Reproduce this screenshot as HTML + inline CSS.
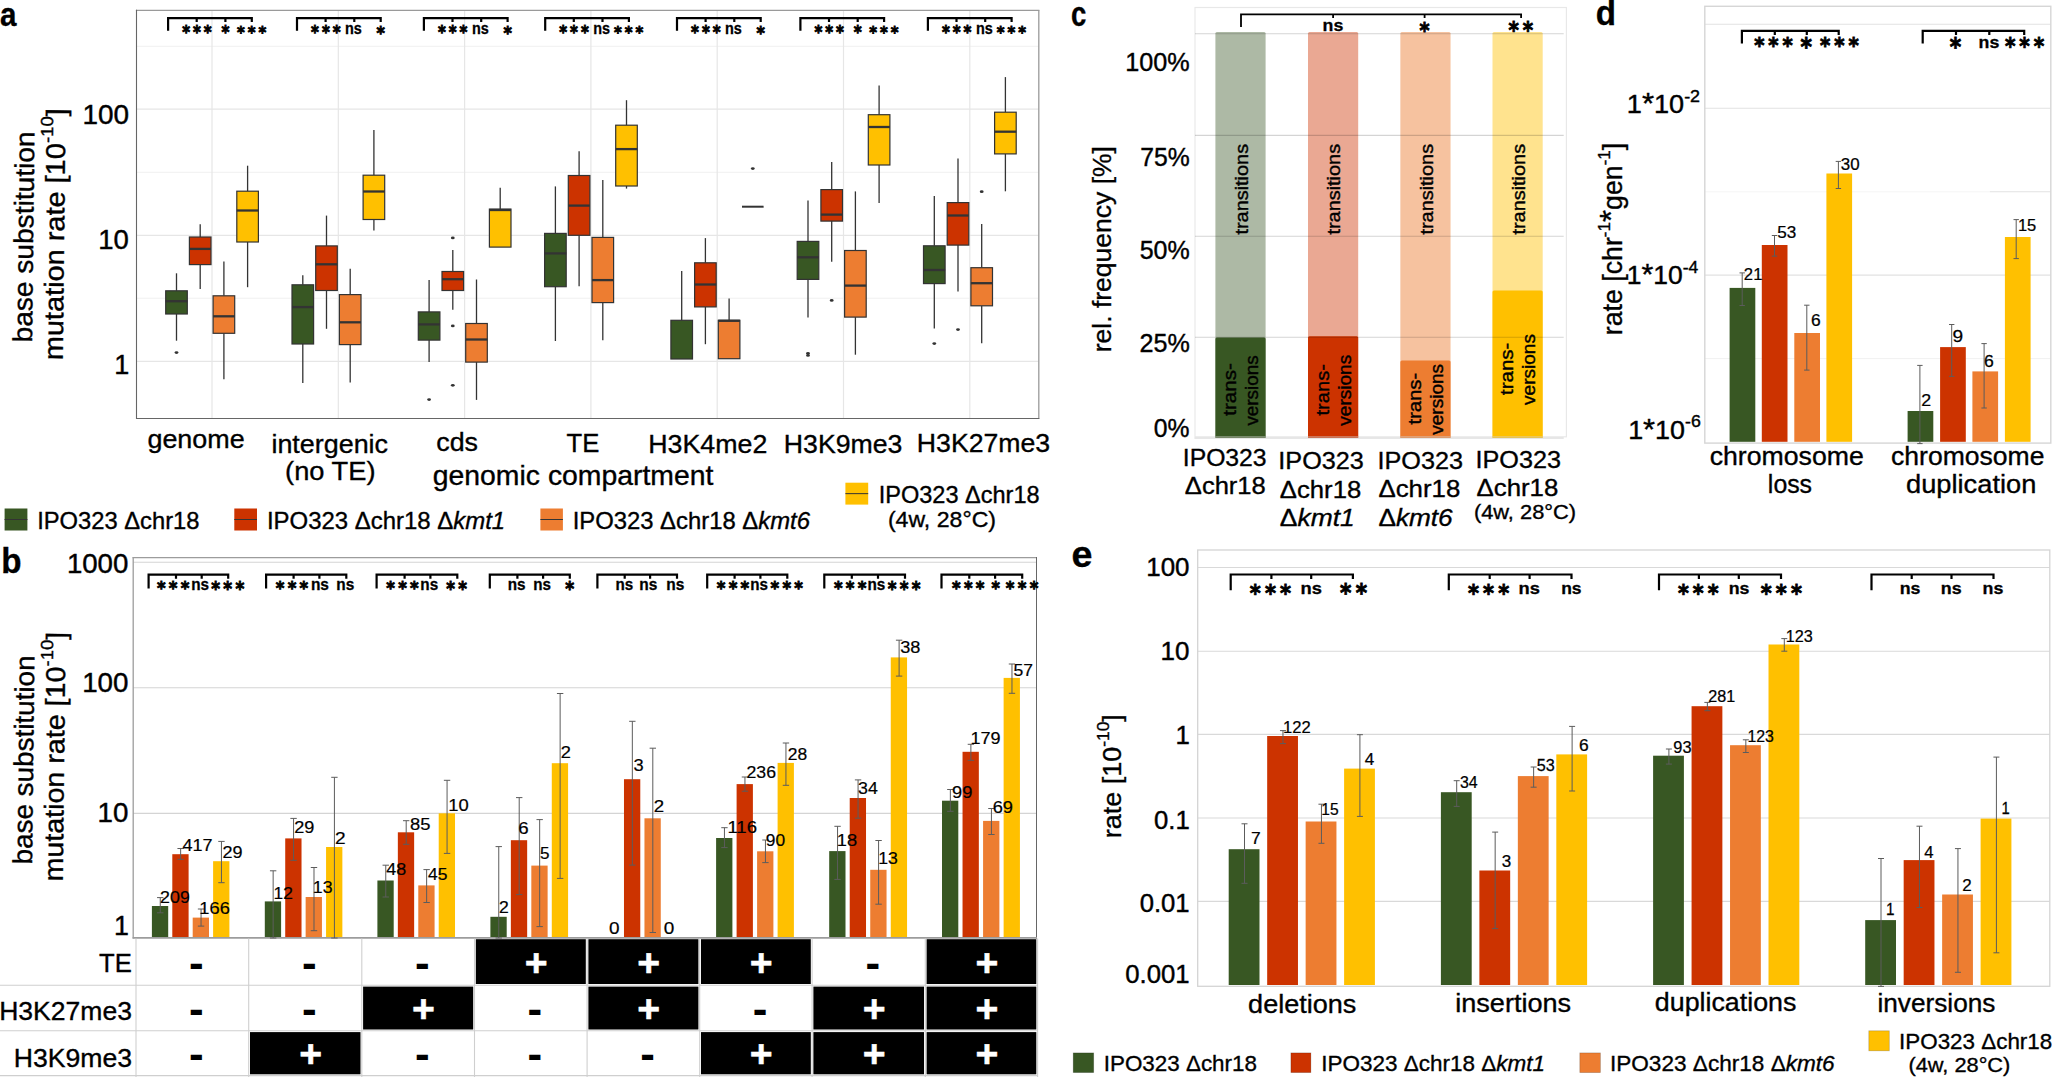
<!DOCTYPE html>
<html><head><meta charset="utf-8"><title>Figure</title>
<style>html,body{margin:0;padding:0;background:#fff}svg{display:block}text{font-family:'Liberation Sans',sans-serif;white-space:pre}</style>
</head><body>
<svg width="2052" height="1077" viewBox="0 0 2052 1077">
<rect width="2052" height="1077" fill="#fff"/>
<rect x="136.5" y="10" width="902" height="408" fill="#fff"/>
<line x1="136.5" y1="46.3" x2="1038.5" y2="46.3" stroke="#f0f0f0" stroke-width="1"/>
<line x1="136.5" y1="172.3" x2="1038.5" y2="172.3" stroke="#f0f0f0" stroke-width="1"/>
<line x1="136.5" y1="298.2" x2="1038.5" y2="298.2" stroke="#f0f0f0" stroke-width="1"/>
<line x1="136.5" y1="109.2" x2="1038.5" y2="109.2" stroke="#e6e6e6" stroke-width="1.2"/>
<line x1="136.5" y1="235.4" x2="1038.5" y2="235.4" stroke="#e6e6e6" stroke-width="1.2"/>
<line x1="136.5" y1="361.3" x2="1038.5" y2="361.3" stroke="#e6e6e6" stroke-width="1.2"/>
<line x1="212" y1="10" x2="212" y2="418" stroke="#e6e6e6" stroke-width="1.2"/>
<line x1="338.3" y1="10" x2="338.3" y2="418" stroke="#e6e6e6" stroke-width="1.2"/>
<line x1="464.6" y1="10" x2="464.6" y2="418" stroke="#e6e6e6" stroke-width="1.2"/>
<line x1="590.9" y1="10" x2="590.9" y2="418" stroke="#e6e6e6" stroke-width="1.2"/>
<line x1="717.2" y1="10" x2="717.2" y2="418" stroke="#e6e6e6" stroke-width="1.2"/>
<line x1="843.5" y1="10" x2="843.5" y2="418" stroke="#e6e6e6" stroke-width="1.2"/>
<line x1="969.8" y1="10" x2="969.8" y2="418" stroke="#e6e6e6" stroke-width="1.2"/>
<line x1="135.9" y1="10.3" x2="1039.4" y2="10.3" stroke="#9a9a9a" stroke-width="1.3"/>
<line x1="1038.8" y1="10.3" x2="1038.8" y2="418.5" stroke="#9a9a9a" stroke-width="1.3"/>
<line x1="136.5" y1="9.7" x2="136.5" y2="419" stroke="#666" stroke-width="1.1"/>
<line x1="136" y1="418.5" x2="1039.4" y2="418.5" stroke="#666" stroke-width="1.1"/>
<line x1="176.5" y1="273.3" x2="176.5" y2="290.8" stroke="#333" stroke-width="1.3"/>
<line x1="176.5" y1="314" x2="176.5" y2="340.7" stroke="#333" stroke-width="1.3"/>
<rect x="165.7" y="290.8" width="21.6" height="23.2" fill="#385723" stroke="#333" stroke-width="1.2"/>
<line x1="165.7" y1="301.2" x2="187.3" y2="301.2" stroke="#333" stroke-width="2.3"/>
<ellipse cx="176.5" cy="352.6" rx="1.9" ry="1.4" fill="#333"/>
<line x1="200.2" y1="224.2" x2="200.2" y2="237" stroke="#333" stroke-width="1.3"/>
<line x1="200.2" y1="264.6" x2="200.2" y2="289" stroke="#333" stroke-width="1.3"/>
<rect x="189.4" y="237" width="21.6" height="27.6" fill="#CC3300" stroke="#333" stroke-width="1.2"/>
<line x1="189.4" y1="248.9" x2="211" y2="248.9" stroke="#333" stroke-width="2.3"/>
<line x1="223.9" y1="261.4" x2="223.9" y2="295.8" stroke="#333" stroke-width="1.3"/>
<line x1="223.9" y1="333.3" x2="223.9" y2="379.3" stroke="#333" stroke-width="1.3"/>
<rect x="213.1" y="295.8" width="21.6" height="37.5" fill="#ED7D31" stroke="#333" stroke-width="1.2"/>
<line x1="213.1" y1="316.3" x2="234.7" y2="316.3" stroke="#333" stroke-width="2.3"/>
<line x1="247.6" y1="165.7" x2="247.6" y2="191.2" stroke="#333" stroke-width="1.3"/>
<line x1="247.6" y1="242" x2="247.6" y2="287.2" stroke="#333" stroke-width="1.3"/>
<rect x="236.8" y="191.2" width="21.6" height="50.8" fill="#FFC000" stroke="#333" stroke-width="1.2"/>
<line x1="236.8" y1="210.5" x2="258.4" y2="210.5" stroke="#333" stroke-width="2.3"/>
<line x1="302.8" y1="275.3" x2="302.8" y2="284.8" stroke="#333" stroke-width="1.3"/>
<line x1="302.8" y1="344" x2="302.8" y2="382.9" stroke="#333" stroke-width="1.3"/>
<rect x="292" y="284.8" width="21.6" height="59.2" fill="#385723" stroke="#333" stroke-width="1.2"/>
<line x1="292" y1="307.1" x2="313.6" y2="307.1" stroke="#333" stroke-width="2.3"/>
<line x1="326.5" y1="215.6" x2="326.5" y2="245.9" stroke="#333" stroke-width="1.3"/>
<line x1="326.5" y1="290.5" x2="326.5" y2="328.8" stroke="#333" stroke-width="1.3"/>
<rect x="315.7" y="245.9" width="21.6" height="44.6" fill="#CC3300" stroke="#333" stroke-width="1.2"/>
<line x1="315.7" y1="264.3" x2="337.3" y2="264.3" stroke="#333" stroke-width="2.3"/>
<line x1="350.2" y1="268.8" x2="350.2" y2="294.6" stroke="#333" stroke-width="1.3"/>
<line x1="350.2" y1="344.6" x2="350.2" y2="382.6" stroke="#333" stroke-width="1.3"/>
<rect x="339.4" y="294.6" width="21.6" height="50" fill="#ED7D31" stroke="#333" stroke-width="1.2"/>
<line x1="339.4" y1="322.3" x2="361" y2="322.3" stroke="#333" stroke-width="2.3"/>
<line x1="373.9" y1="130" x2="373.9" y2="175.2" stroke="#333" stroke-width="1.3"/>
<line x1="373.9" y1="219.5" x2="373.9" y2="230.5" stroke="#333" stroke-width="1.3"/>
<rect x="363.1" y="175.2" width="21.6" height="44.3" fill="#FFC000" stroke="#333" stroke-width="1.2"/>
<line x1="363.1" y1="191.5" x2="384.7" y2="191.5" stroke="#333" stroke-width="2.3"/>
<line x1="429.1" y1="280.1" x2="429.1" y2="311.9" stroke="#333" stroke-width="1.3"/>
<line x1="429.1" y1="340.1" x2="429.1" y2="362.1" stroke="#333" stroke-width="1.3"/>
<rect x="418.3" y="311.9" width="21.6" height="28.2" fill="#385723" stroke="#333" stroke-width="1.2"/>
<line x1="418.3" y1="324.4" x2="439.9" y2="324.4" stroke="#333" stroke-width="2.3"/>
<ellipse cx="429.1" cy="399.6" rx="1.9" ry="1.4" fill="#333"/>
<line x1="452.8" y1="250.1" x2="452.8" y2="271.5" stroke="#333" stroke-width="1.3"/>
<line x1="452.8" y1="290.5" x2="452.8" y2="309.8" stroke="#333" stroke-width="1.3"/>
<rect x="442" y="271.5" width="21.6" height="19" fill="#CC3300" stroke="#333" stroke-width="1.2"/>
<line x1="442" y1="279.2" x2="463.6" y2="279.2" stroke="#333" stroke-width="2.3"/>
<ellipse cx="452.8" cy="237.9" rx="1.9" ry="1.4" fill="#333"/>
<ellipse cx="452.8" cy="325.9" rx="1.9" ry="1.4" fill="#333"/>
<ellipse cx="452.8" cy="385.3" rx="1.9" ry="1.4" fill="#333"/>
<line x1="476.5" y1="279.5" x2="476.5" y2="323.5" stroke="#333" stroke-width="1.3"/>
<line x1="476.5" y1="362.1" x2="476.5" y2="399.9" stroke="#333" stroke-width="1.3"/>
<rect x="465.7" y="323.5" width="21.6" height="38.6" fill="#ED7D31" stroke="#333" stroke-width="1.2"/>
<line x1="465.7" y1="339.5" x2="487.3" y2="339.5" stroke="#333" stroke-width="2.3"/>
<line x1="500.2" y1="187.7" x2="500.2" y2="209.1" stroke="#333" stroke-width="1.3"/>
<rect x="489.4" y="209.1" width="21.6" height="38" fill="#FFC000" stroke="#333" stroke-width="1.2"/>
<line x1="489.4" y1="210" x2="511" y2="210" stroke="#333" stroke-width="2.3"/>
<line x1="555.4" y1="186.4" x2="555.4" y2="233.4" stroke="#333" stroke-width="1.3"/>
<line x1="555.4" y1="286.7" x2="555.4" y2="341" stroke="#333" stroke-width="1.3"/>
<rect x="544.6" y="233.4" width="21.6" height="53.3" fill="#385723" stroke="#333" stroke-width="1.2"/>
<line x1="544.6" y1="253.4" x2="566.2" y2="253.4" stroke="#333" stroke-width="2.3"/>
<line x1="579.1" y1="151.3" x2="579.1" y2="175.5" stroke="#333" stroke-width="1.3"/>
<line x1="579.1" y1="235.3" x2="579.1" y2="286.3" stroke="#333" stroke-width="1.3"/>
<rect x="568.3" y="175.5" width="21.6" height="59.8" fill="#CC3300" stroke="#333" stroke-width="1.2"/>
<line x1="568.3" y1="205.6" x2="589.9" y2="205.6" stroke="#333" stroke-width="2.3"/>
<line x1="602.8" y1="179.9" x2="602.8" y2="237.4" stroke="#333" stroke-width="1.3"/>
<line x1="602.8" y1="302.6" x2="602.8" y2="340.2" stroke="#333" stroke-width="1.3"/>
<rect x="592" y="237.4" width="21.6" height="65.2" fill="#ED7D31" stroke="#333" stroke-width="1.2"/>
<line x1="592" y1="280.1" x2="613.6" y2="280.1" stroke="#333" stroke-width="2.3"/>
<line x1="626.5" y1="100.2" x2="626.5" y2="125.2" stroke="#333" stroke-width="1.3"/>
<line x1="626.5" y1="186" x2="626.5" y2="188.6" stroke="#333" stroke-width="1.3"/>
<rect x="615.7" y="125.2" width="21.6" height="60.8" fill="#FFC000" stroke="#333" stroke-width="1.2"/>
<line x1="615.7" y1="149.1" x2="637.3" y2="149.1" stroke="#333" stroke-width="2.3"/>
<line x1="681.7" y1="271.1" x2="681.7" y2="320.3" stroke="#333" stroke-width="1.3"/>
<rect x="670.9" y="320.3" width="21.6" height="38.7" fill="#385723" stroke="#333" stroke-width="1.2"/>
<line x1="705.4" y1="238.1" x2="705.4" y2="262.8" stroke="#333" stroke-width="1.3"/>
<line x1="705.4" y1="306.9" x2="705.4" y2="344.2" stroke="#333" stroke-width="1.3"/>
<rect x="694.6" y="262.8" width="21.6" height="44.1" fill="#CC3300" stroke="#333" stroke-width="1.2"/>
<line x1="694.6" y1="284.5" x2="716.2" y2="284.5" stroke="#333" stroke-width="2.3"/>
<line x1="729.1" y1="298.6" x2="729.1" y2="320.3" stroke="#333" stroke-width="1.3"/>
<rect x="718.3" y="320.3" width="21.6" height="38.4" fill="#ED7D31" stroke="#333" stroke-width="1.2"/>
<line x1="718.3" y1="320.8" x2="739.9" y2="320.8" stroke="#333" stroke-width="2.3"/>
<line x1="742" y1="206.7" x2="763.6" y2="206.7" stroke="#333" stroke-width="2"/>
<ellipse cx="752.8" cy="168.6" rx="1.9" ry="1.4" fill="#333"/>
<line x1="808" y1="200.5" x2="808" y2="241.4" stroke="#333" stroke-width="1.3"/>
<line x1="808" y1="279.4" x2="808" y2="317.4" stroke="#333" stroke-width="1.3"/>
<rect x="797.2" y="241.4" width="21.6" height="38" fill="#385723" stroke="#333" stroke-width="1.2"/>
<line x1="797.2" y1="257.3" x2="818.8" y2="257.3" stroke="#333" stroke-width="2.3"/>
<ellipse cx="808" cy="353.3" rx="1.9" ry="1.4" fill="#333"/>
<ellipse cx="808" cy="355.4" rx="1.9" ry="1.4" fill="#333"/>
<line x1="831.7" y1="162.1" x2="831.7" y2="189.6" stroke="#333" stroke-width="1.3"/>
<line x1="831.7" y1="221.1" x2="831.7" y2="261.7" stroke="#333" stroke-width="1.3"/>
<rect x="820.9" y="189.6" width="21.6" height="31.5" fill="#CC3300" stroke="#333" stroke-width="1.2"/>
<line x1="820.9" y1="214.6" x2="842.5" y2="214.6" stroke="#333" stroke-width="2.3"/>
<ellipse cx="831.7" cy="300.4" rx="1.9" ry="1.4" fill="#333"/>
<line x1="855.4" y1="191.4" x2="855.4" y2="250.5" stroke="#333" stroke-width="1.3"/>
<line x1="855.4" y1="317.1" x2="855.4" y2="354.7" stroke="#333" stroke-width="1.3"/>
<rect x="844.6" y="250.5" width="21.6" height="66.6" fill="#ED7D31" stroke="#333" stroke-width="1.2"/>
<line x1="844.6" y1="285.6" x2="866.2" y2="285.6" stroke="#333" stroke-width="2.3"/>
<line x1="879.1" y1="85.4" x2="879.1" y2="114.7" stroke="#333" stroke-width="1.3"/>
<line x1="879.1" y1="165" x2="879.1" y2="203" stroke="#333" stroke-width="1.3"/>
<rect x="868.3" y="114.7" width="21.6" height="50.3" fill="#FFC000" stroke="#333" stroke-width="1.2"/>
<line x1="868.3" y1="127" x2="889.9" y2="127" stroke="#333" stroke-width="2.3"/>
<line x1="934.3" y1="196" x2="934.3" y2="245.8" stroke="#333" stroke-width="1.3"/>
<line x1="934.3" y1="283.6" x2="934.3" y2="328.4" stroke="#333" stroke-width="1.3"/>
<rect x="923.5" y="245.8" width="21.6" height="37.8" fill="#385723" stroke="#333" stroke-width="1.2"/>
<line x1="923.5" y1="270" x2="945.1" y2="270" stroke="#333" stroke-width="2.3"/>
<ellipse cx="934.3" cy="343.6" rx="1.9" ry="1.4" fill="#333"/>
<line x1="958" y1="158.6" x2="958" y2="202.6" stroke="#333" stroke-width="1.3"/>
<line x1="958" y1="245.1" x2="958" y2="291.4" stroke="#333" stroke-width="1.3"/>
<rect x="947.2" y="202.6" width="21.6" height="42.5" fill="#CC3300" stroke="#333" stroke-width="1.2"/>
<line x1="947.2" y1="215.5" x2="968.8" y2="215.5" stroke="#333" stroke-width="2.3"/>
<ellipse cx="958" cy="329.6" rx="1.9" ry="1.4" fill="#333"/>
<line x1="981.7" y1="224" x2="981.7" y2="267.7" stroke="#333" stroke-width="1.3"/>
<line x1="981.7" y1="305.8" x2="981.7" y2="343.2" stroke="#333" stroke-width="1.3"/>
<rect x="970.9" y="267.7" width="21.6" height="38.1" fill="#ED7D31" stroke="#333" stroke-width="1.2"/>
<line x1="970.9" y1="283.2" x2="992.5" y2="283.2" stroke="#333" stroke-width="2.3"/>
<ellipse cx="981.7" cy="191.7" rx="1.9" ry="1.4" fill="#333"/>
<line x1="1005.4" y1="77.1" x2="1005.4" y2="112.2" stroke="#333" stroke-width="1.3"/>
<line x1="1005.4" y1="153.9" x2="1005.4" y2="191.3" stroke="#333" stroke-width="1.3"/>
<rect x="994.6" y="112.2" width="21.6" height="41.7" fill="#FFC000" stroke="#333" stroke-width="1.2"/>
<line x1="994.6" y1="131.7" x2="1016.2" y2="131.7" stroke="#333" stroke-width="2.3"/>
<path d="M168.1 30.8 V18.2 H251.8 V22 M196.7 18.2 V22 M225.4 18.2 V22" stroke="#000" stroke-width="2.2" fill="none"/>
<text transform="translate(182.2,38.03) scale(1.0000,1.12)" fill="#000" stroke="#000" stroke-width="0.8"><tspan x="0" y="0" font-size="14.98" font-weight="bold" font-family="'DejaVu Sans',sans-serif">*</tspan><tspan x="10.8" y="0" font-size="14.98" font-weight="bold" font-family="'DejaVu Sans',sans-serif">*</tspan><tspan x="21.61" y="0" font-size="14.98" font-weight="bold" font-family="'DejaVu Sans',sans-serif">*</tspan></text>
<text transform="translate(221.4,38.16) scale(1.0000,1.12)" fill="#000" stroke="#000" stroke-width="0.8"><tspan x="0" y="0" font-size="15.21" font-weight="bold" font-family="'DejaVu Sans',sans-serif">*</tspan></text>
<text transform="translate(237,37.97) scale(1.0000,1.12)" fill="#000" stroke="#000" stroke-width="0.8"><tspan x="0" y="0" font-size="14.88" font-weight="bold" font-family="'DejaVu Sans',sans-serif">*</tspan><tspan x="10.73" y="0" font-size="14.88" font-weight="bold" font-family="'DejaVu Sans',sans-serif">*</tspan><tspan x="21.46" y="0" font-size="14.88" font-weight="bold" font-family="'DejaVu Sans',sans-serif">*</tspan></text>
<path d="M297 30.8 V18.2 H380.7 V22 M325.6 18.2 V22 M354.3 18.2 V22" stroke="#000" stroke-width="2.2" fill="none"/>
<text transform="translate(311.1,38.03) scale(1.0000,1.12)" fill="#000" stroke="#000" stroke-width="0.8"><tspan x="0" y="0" font-size="14.98" font-weight="bold" font-family="'DejaVu Sans',sans-serif">*</tspan><tspan x="10.8" y="0" font-size="14.98" font-weight="bold" font-family="'DejaVu Sans',sans-serif">*</tspan><tspan x="21.61" y="0" font-size="14.98" font-weight="bold" font-family="'DejaVu Sans',sans-serif">*</tspan></text>
<text transform="translate(344.99,33.6) scale(0.8392,1)" fill="#000" stroke="#000" stroke-width="0.3"><tspan x="0" y="0" font-size="17.2" font-weight="bold">ns</tspan></text>
<text transform="translate(376.58,38.64) scale(1.0000,1.12)" fill="#000" stroke="#000" stroke-width="0.8"><tspan x="0" y="0" font-size="16.04" font-weight="bold" font-family="'DejaVu Sans',sans-serif">*</tspan></text>
<path d="M423.9 30.8 V18.2 H507.6 V22 M452.5 18.2 V22 M481.2 18.2 V22" stroke="#000" stroke-width="2.2" fill="none"/>
<text transform="translate(438,38.03) scale(1.0000,1.12)" fill="#000" stroke="#000" stroke-width="0.8"><tspan x="0" y="0" font-size="14.98" font-weight="bold" font-family="'DejaVu Sans',sans-serif">*</tspan><tspan x="10.8" y="0" font-size="14.98" font-weight="bold" font-family="'DejaVu Sans',sans-serif">*</tspan><tspan x="21.61" y="0" font-size="14.98" font-weight="bold" font-family="'DejaVu Sans',sans-serif">*</tspan></text>
<text transform="translate(471.89,33.6) scale(0.8392,1)" fill="#000" stroke="#000" stroke-width="0.3"><tspan x="0" y="0" font-size="17.2" font-weight="bold">ns</tspan></text>
<text transform="translate(503.48,38.64) scale(1.0000,1.12)" fill="#000" stroke="#000" stroke-width="0.8"><tspan x="0" y="0" font-size="16.04" font-weight="bold" font-family="'DejaVu Sans',sans-serif">*</tspan></text>
<path d="M545.2 30.8 V18.2 H628.9 V22 M573.8 18.2 V22 M602.5 18.2 V22" stroke="#000" stroke-width="2.2" fill="none"/>
<text transform="translate(559.3,38.03) scale(1.0000,1.12)" fill="#000" stroke="#000" stroke-width="0.8"><tspan x="0" y="0" font-size="14.98" font-weight="bold" font-family="'DejaVu Sans',sans-serif">*</tspan><tspan x="10.8" y="0" font-size="14.98" font-weight="bold" font-family="'DejaVu Sans',sans-serif">*</tspan><tspan x="21.61" y="0" font-size="14.98" font-weight="bold" font-family="'DejaVu Sans',sans-serif">*</tspan></text>
<text transform="translate(593.19,33.6) scale(0.8392,1)" fill="#000" stroke="#000" stroke-width="0.3"><tspan x="0" y="0" font-size="17.2" font-weight="bold">ns</tspan></text>
<text transform="translate(614.1,37.97) scale(1.0000,1.12)" fill="#000" stroke="#000" stroke-width="0.8"><tspan x="0" y="0" font-size="14.88" font-weight="bold" font-family="'DejaVu Sans',sans-serif">*</tspan><tspan x="10.73" y="0" font-size="14.88" font-weight="bold" font-family="'DejaVu Sans',sans-serif">*</tspan><tspan x="21.46" y="0" font-size="14.88" font-weight="bold" font-family="'DejaVu Sans',sans-serif">*</tspan></text>
<path d="M677 30.8 V18.2 H760.7 V22 M705.6 18.2 V22 M734.3 18.2 V22" stroke="#000" stroke-width="2.2" fill="none"/>
<text transform="translate(691.1,38.03) scale(1.0000,1.12)" fill="#000" stroke="#000" stroke-width="0.8"><tspan x="0" y="0" font-size="14.98" font-weight="bold" font-family="'DejaVu Sans',sans-serif">*</tspan><tspan x="10.8" y="0" font-size="14.98" font-weight="bold" font-family="'DejaVu Sans',sans-serif">*</tspan><tspan x="21.61" y="0" font-size="14.98" font-weight="bold" font-family="'DejaVu Sans',sans-serif">*</tspan></text>
<text transform="translate(724.99,33.6) scale(0.8392,1)" fill="#000" stroke="#000" stroke-width="0.3"><tspan x="0" y="0" font-size="17.2" font-weight="bold">ns</tspan></text>
<text transform="translate(756.58,38.64) scale(1.0000,1.12)" fill="#000" stroke="#000" stroke-width="0.8"><tspan x="0" y="0" font-size="16.04" font-weight="bold" font-family="'DejaVu Sans',sans-serif">*</tspan></text>
<path d="M800.4 30.8 V18.2 H884.1 V22 M829 18.2 V22 M857.7 18.2 V22" stroke="#000" stroke-width="2.2" fill="none"/>
<text transform="translate(814.5,38.03) scale(1.0000,1.12)" fill="#000" stroke="#000" stroke-width="0.8"><tspan x="0" y="0" font-size="14.98" font-weight="bold" font-family="'DejaVu Sans',sans-serif">*</tspan><tspan x="10.8" y="0" font-size="14.98" font-weight="bold" font-family="'DejaVu Sans',sans-serif">*</tspan><tspan x="21.61" y="0" font-size="14.98" font-weight="bold" font-family="'DejaVu Sans',sans-serif">*</tspan></text>
<text transform="translate(853.7,38.16) scale(1.0000,1.12)" fill="#000" stroke="#000" stroke-width="0.8"><tspan x="0" y="0" font-size="15.21" font-weight="bold" font-family="'DejaVu Sans',sans-serif">*</tspan></text>
<text transform="translate(869.3,37.97) scale(1.0000,1.12)" fill="#000" stroke="#000" stroke-width="0.8"><tspan x="0" y="0" font-size="14.88" font-weight="bold" font-family="'DejaVu Sans',sans-serif">*</tspan><tspan x="10.73" y="0" font-size="14.88" font-weight="bold" font-family="'DejaVu Sans',sans-serif">*</tspan><tspan x="21.46" y="0" font-size="14.88" font-weight="bold" font-family="'DejaVu Sans',sans-serif">*</tspan></text>
<path d="M927.9 30.8 V18.2 H1011.6 V22 M956.5 18.2 V22 M985.2 18.2 V22" stroke="#000" stroke-width="2.2" fill="none"/>
<text transform="translate(942,38.03) scale(1.0000,1.12)" fill="#000" stroke="#000" stroke-width="0.8"><tspan x="0" y="0" font-size="14.98" font-weight="bold" font-family="'DejaVu Sans',sans-serif">*</tspan><tspan x="10.8" y="0" font-size="14.98" font-weight="bold" font-family="'DejaVu Sans',sans-serif">*</tspan><tspan x="21.61" y="0" font-size="14.98" font-weight="bold" font-family="'DejaVu Sans',sans-serif">*</tspan></text>
<text transform="translate(975.89,33.6) scale(0.8392,1)" fill="#000" stroke="#000" stroke-width="0.3"><tspan x="0" y="0" font-size="17.2" font-weight="bold">ns</tspan></text>
<text transform="translate(996.8,37.97) scale(1.0000,1.12)" fill="#000" stroke="#000" stroke-width="0.8"><tspan x="0" y="0" font-size="14.88" font-weight="bold" font-family="'DejaVu Sans',sans-serif">*</tspan><tspan x="10.73" y="0" font-size="14.88" font-weight="bold" font-family="'DejaVu Sans',sans-serif">*</tspan><tspan x="21.46" y="0" font-size="14.88" font-weight="bold" font-family="'DejaVu Sans',sans-serif">*</tspan></text>
<text transform="translate(0.01,25.8) scale(0.8843,1)" fill="#000" stroke="#000" stroke-width="0.35"><tspan x="0" y="0" font-size="33.5" font-weight="bold">a</tspan></text>
<text transform="translate(82.47,123.9) scale(1.0346,1)" fill="#000" stroke="#000" stroke-width="0.42"><tspan x="0" y="0" font-size="27">100</tspan></text>
<text transform="translate(98.3,249.4) scale(1.0185,1)" fill="#000" stroke="#000" stroke-width="0.42"><tspan x="0" y="0" font-size="27">10</tspan></text>
<text transform="translate(114.23,373.6) scale(1.0000,1)" fill="#000" stroke="#000" stroke-width="0.42"><tspan x="0" y="0" font-size="27">1</tspan></text>
<text transform="translate(32,342.49) rotate(-89.35) scale(1.03,1)" fill="#000" stroke="#000" stroke-width="0.35"><tspan x="0" y="0" font-size="27.3">base substitution</tspan></text>
<text transform="translate(62.7,360.32) rotate(-89.35) scale(1.06,1)" fill="#000" stroke="#000" stroke-width="0.35"><tspan x="0" y="0" font-size="27.3">mutation rate [10</tspan><tspan x="204.85" y="-12.29" font-size="17.47">-10</tspan><tspan x="230.1" y="0" font-size="27.3">]</tspan></text>
<text transform="translate(147.42,448) scale(1.0244,1)" fill="#000" stroke="#000" stroke-width="0.35"><tspan x="0" y="0" font-size="26.3">genome</tspan></text>
<text transform="translate(271.42,453.2) scale(1.0232,1)" fill="#000" stroke="#000" stroke-width="0.35"><tspan x="0" y="0" font-size="26.3">intergenic</tspan></text>
<text transform="translate(285.06,479.7) scale(1.0370,1)" fill="#000" stroke="#000" stroke-width="0.35"><tspan x="0" y="0" font-size="26.3">(no TE)</tspan></text>
<text transform="translate(436.23,451.2) scale(1.0199,1)" fill="#000" stroke="#000" stroke-width="0.35"><tspan x="0" y="0" font-size="26.3">cds</tspan></text>
<text transform="translate(566.49,451.9) scale(0.9755,1)" fill="#000" stroke="#000" stroke-width="0.35"><tspan x="0" y="0" font-size="26.3">TE</tspan></text>
<text transform="translate(648.26,452.5) scale(1.0183,1)" fill="#000" stroke="#000" stroke-width="0.35"><tspan x="0" y="0" font-size="26.3">H3K4me2</tspan></text>
<text transform="translate(783.87,452.5) scale(1.0139,1)" fill="#000" stroke="#000" stroke-width="0.35"><tspan x="0" y="0" font-size="26.3">H3K9me3</tspan></text>
<text transform="translate(916.87,452.2) scale(1.0129,1)" fill="#000" stroke="#000" stroke-width="0.35"><tspan x="0" y="0" font-size="26.3">H3K27me3</tspan></text>
<text transform="translate(432.76,484.7) scale(1.0513,1)" fill="#000" stroke="#000" stroke-width="0.35"><tspan x="0" y="0" font-size="27">genomic compartment</tspan></text>
<rect x="4.6" y="508.5" width="22.8" height="22" fill="#385723"/>
<line x1="4.6" y1="519.5" x2="27.4" y2="519.5" stroke="#333" stroke-width="1"/>
<text transform="translate(37.16,528.6) scale(1.0192,1)" fill="#000" stroke="#000" stroke-width="0.35"><tspan x="0" y="0" font-size="23.3">IPO323 Δchr18</tspan></text>
<rect x="234.3" y="508.5" width="22.7" height="22" fill="#CC3300"/>
<line x1="234.3" y1="519.5" x2="257" y2="519.5" stroke="#333" stroke-width="1"/>
<text transform="translate(266.95,528.6) scale(1.0275,1)" fill="#000" stroke="#000" stroke-width="0.35"><tspan x="0" y="0" font-size="23.3">IPO323 Δchr18 Δ</tspan><tspan x="181.36" y="0" font-size="23.3" font-style="italic">kmt1</tspan></text>
<rect x="540.4" y="508.5" width="22.5" height="22" fill="#ED7D31"/>
<line x1="540.4" y1="519.5" x2="562.9" y2="519.5" stroke="#333" stroke-width="1"/>
<text transform="translate(572.65,528.6) scale(1.0236,1)" fill="#000" stroke="#000" stroke-width="0.35"><tspan x="0" y="0" font-size="23.3">IPO323 Δchr18 Δ</tspan><tspan x="181.36" y="0" font-size="23.3" font-style="italic">kmt6</tspan></text>
<rect x="845.4" y="482.7" width="22.8" height="21.9" fill="#FFC000"/>
<line x1="845.4" y1="493.65" x2="868.2" y2="493.65" stroke="#333" stroke-width="1"/>
<text transform="translate(878.68,502.8) scale(1.0108,1)" fill="#000" stroke="#000" stroke-width="0.35"><tspan x="0" y="0" font-size="23.3">IPO323 Δchr18</tspan></text>
<text transform="translate(887.91,526.6) scale(1.0701,1)" fill="#000" stroke="#000" stroke-width="0.35"><tspan x="0" y="0" font-size="21.6">(4w, 28°C)</tspan></text>
<rect x="133.2" y="557.6" width="903.6" height="380.4" fill="#fff"/>
<line x1="133.2" y1="562.3" x2="1036.8" y2="562.3" stroke="#d4d4d4" stroke-width="1.1"/>
<line x1="133.2" y1="687.7" x2="1036.8" y2="687.7" stroke="#d4d4d4" stroke-width="1.1"/>
<line x1="133.2" y1="813.4" x2="1036.8" y2="813.4" stroke="#d4d4d4" stroke-width="1.1"/>
<rect x="151.9" y="906" width="16.3" height="31.6" fill="#385723"/>
<rect x="172.3" y="854.2" width="16.3" height="83.4" fill="#CC3300"/>
<rect x="192.7" y="917.6" width="16.3" height="20" fill="#ED7D31"/>
<rect x="213.1" y="861.2" width="16.3" height="76.4" fill="#FFC000"/>
<rect x="264.8" y="901.4" width="16.3" height="36.2" fill="#385723"/>
<rect x="285.22" y="838.4" width="16.3" height="99.2" fill="#CC3300"/>
<rect x="305.64" y="897" width="16.3" height="40.6" fill="#ED7D31"/>
<rect x="326.06" y="847" width="16.3" height="90.6" fill="#FFC000"/>
<rect x="377.4" y="880.5" width="16.3" height="57.1" fill="#385723"/>
<rect x="397.84" y="832.3" width="16.3" height="105.3" fill="#CC3300"/>
<rect x="418.28" y="885.4" width="16.3" height="52.2" fill="#ED7D31"/>
<rect x="438.72" y="813.3" width="16.3" height="124.3" fill="#FFC000"/>
<rect x="490.4" y="916.8" width="16.3" height="20.8" fill="#385723"/>
<rect x="510.86" y="840.2" width="16.3" height="97.4" fill="#CC3300"/>
<rect x="531.32" y="865.6" width="16.3" height="72" fill="#ED7D31"/>
<rect x="551.78" y="763.2" width="16.3" height="174.4" fill="#FFC000"/>
<rect x="623.98" y="779.2" width="16.3" height="158.4" fill="#CC3300"/>
<rect x="644.46" y="818.3" width="16.3" height="119.3" fill="#ED7D31"/>
<rect x="716.1" y="838" width="16.3" height="99.6" fill="#385723"/>
<rect x="736.6" y="784.1" width="16.3" height="153.5" fill="#CC3300"/>
<rect x="757.1" y="851.3" width="16.3" height="86.3" fill="#ED7D31"/>
<rect x="777.6" y="762.9" width="16.3" height="174.7" fill="#FFC000"/>
<rect x="829.2" y="851.1" width="16.3" height="86.5" fill="#385723"/>
<rect x="849.72" y="798" width="16.3" height="139.6" fill="#CC3300"/>
<rect x="870.24" y="869.8" width="16.3" height="67.8" fill="#ED7D31"/>
<rect x="890.76" y="657.4" width="16.3" height="280.2" fill="#FFC000"/>
<rect x="942" y="800.7" width="16.3" height="136.9" fill="#385723"/>
<rect x="962.54" y="751.8" width="16.3" height="185.8" fill="#CC3300"/>
<rect x="983.08" y="820.9" width="16.3" height="116.7" fill="#ED7D31"/>
<rect x="1003.62" y="677.9" width="16.3" height="259.7" fill="#FFC000"/>
<line x1="133.2" y1="557" x2="133.2" y2="938.6" stroke="#9c9c9c" stroke-width="1.3"/>
<line x1="132.6" y1="557.6" x2="1037" y2="557.6" stroke="#9c9c9c" stroke-width="1.3"/>
<line x1="1036.5" y1="557" x2="1036.5" y2="938.6" stroke="#666" stroke-width="1"/>
<line x1="132.6" y1="937.9" x2="1037" y2="937.9" stroke="#9c9c9c" stroke-width="1.6"/>
<path d="M160.25 897.6 V912.8 M157.05 897.6 H163.45 M157.05 912.8 H163.45" stroke="#5c5c5c" stroke-width="1" fill="none"/>
<path d="M180.65 848.5 V859.3 M177.45 848.5 H183.85 M177.45 859.3 H183.85" stroke="#5c5c5c" stroke-width="1" fill="none"/>
<path d="M201.05 909 V926.1 M197.85 909 H204.25 M197.85 926.1 H204.25" stroke="#5c5c5c" stroke-width="1" fill="none"/>
<path d="M221.45 841.4 V882.7 M218.25 841.4 H224.65 M218.25 882.7 H224.65" stroke="#5c5c5c" stroke-width="1" fill="none"/>
<path d="M273.15 870.8 V938 M269.95 870.8 H276.35 M269.95 938 H276.35" stroke="#5c5c5c" stroke-width="1" fill="none"/>
<path d="M293.57 818.4 V860.3 M290.37 818.4 H296.77 M290.37 860.3 H296.77" stroke="#5c5c5c" stroke-width="1" fill="none"/>
<path d="M313.99 867.5 V930.7 M310.79 867.5 H317.19 M310.79 930.7 H317.19" stroke="#5c5c5c" stroke-width="1" fill="none"/>
<path d="M334.41 777.3 V938 M331.21 777.3 H337.61 M331.21 938 H337.61" stroke="#5c5c5c" stroke-width="1" fill="none"/>
<path d="M385.75 865.2 V897 M382.55 865.2 H388.95 M382.55 897 H388.95" stroke="#5c5c5c" stroke-width="1" fill="none"/>
<path d="M406.19 820.7 V844.3 M402.99 820.7 H409.39 M402.99 844.3 H409.39" stroke="#5c5c5c" stroke-width="1" fill="none"/>
<path d="M426.63 869.6 V902.5 M423.43 869.6 H429.83 M423.43 902.5 H429.83" stroke="#5c5c5c" stroke-width="1" fill="none"/>
<path d="M447.07 780.3 V853.4 M443.87 780.3 H450.27 M443.87 853.4 H450.27" stroke="#5c5c5c" stroke-width="1" fill="none"/>
<path d="M498.75 846.6 V938 M495.55 846.6 H501.95 M495.55 938 H501.95" stroke="#5c5c5c" stroke-width="1" fill="none"/>
<path d="M519.21 797.6 V894.6 M516.01 797.6 H522.41 M516.01 894.6 H522.41" stroke="#5c5c5c" stroke-width="1" fill="none"/>
<path d="M539.67 819.6 V926.6 M536.47 819.6 H542.87 M536.47 926.6 H542.87" stroke="#5c5c5c" stroke-width="1" fill="none"/>
<path d="M560.13 693.5 V878.4 M556.93 693.5 H563.33 M556.93 878.4 H563.33" stroke="#5c5c5c" stroke-width="1" fill="none"/>
<path d="M632.33 721.3 V865.1 M629.13 721.3 H635.53 M629.13 865.1 H635.53" stroke="#5c5c5c" stroke-width="1" fill="none"/>
<path d="M652.81 748.2 V932.5 M649.61 748.2 H656.01 M649.61 932.5 H656.01" stroke="#5c5c5c" stroke-width="1" fill="none"/>
<path d="M724.45 827.7 V847.6 M721.25 827.7 H727.65 M721.25 847.6 H727.65" stroke="#5c5c5c" stroke-width="1" fill="none"/>
<path d="M744.95 777 V791.2 M741.75 777 H748.15 M741.75 791.2 H748.15" stroke="#5c5c5c" stroke-width="1" fill="none"/>
<path d="M765.45 840 V862.6 M762.25 840 H768.65 M762.25 862.6 H768.65" stroke="#5c5c5c" stroke-width="1" fill="none"/>
<path d="M785.95 743 V785.3 M782.75 743 H789.15 M782.75 785.3 H789.15" stroke="#5c5c5c" stroke-width="1" fill="none"/>
<path d="M837.55 826.3 V879.4 M834.35 826.3 H840.75 M834.35 879.4 H840.75" stroke="#5c5c5c" stroke-width="1" fill="none"/>
<path d="M858.07 779.9 V818.2 M854.87 779.9 H861.27 M854.87 818.2 H861.27" stroke="#5c5c5c" stroke-width="1" fill="none"/>
<path d="M878.59 840.5 V904.2 M875.39 840.5 H881.79 M875.39 904.2 H881.79" stroke="#5c5c5c" stroke-width="1" fill="none"/>
<path d="M899.11 640.2 V676.1 M895.91 640.2 H902.31 M895.91 676.1 H902.31" stroke="#5c5c5c" stroke-width="1" fill="none"/>
<path d="M950.35 789.5 V811.3 M947.15 789.5 H953.55 M947.15 811.3 H953.55" stroke="#5c5c5c" stroke-width="1" fill="none"/>
<path d="M970.89 744.3 V760.3 M967.69 744.3 H974.09 M967.69 760.3 H974.09" stroke="#5c5c5c" stroke-width="1" fill="none"/>
<path d="M991.43 808.5 V834.5 M988.23 808.5 H994.63 M988.23 834.5 H994.63" stroke="#5c5c5c" stroke-width="1" fill="none"/>
<path d="M1011.97 664 V693.3 M1008.77 664 H1015.17 M1008.77 693.3 H1015.17" stroke="#5c5c5c" stroke-width="1" fill="none"/>
<text transform="translate(160.11,903.3) scale(1.0744,1)" fill="#000" stroke="#000" stroke-width="0.2"><tspan x="0" y="0" font-size="16.6">209</tspan></text>
<text transform="translate(182.54,850.8) scale(1.0881,1)" fill="#000" stroke="#000" stroke-width="0.2"><tspan x="0" y="0" font-size="16.6">417</tspan></text>
<text transform="translate(199.34,913.6) scale(1.1031,1)" fill="#000" stroke="#000" stroke-width="0.2"><tspan x="0" y="0" font-size="16.6">166</tspan></text>
<text transform="translate(222.4,858.4) scale(1.0867,1)" fill="#000" stroke="#000" stroke-width="0.2"><tspan x="0" y="0" font-size="16.6">29</tspan></text>
<text transform="translate(273.61,898.5) scale(1.0466,1)" fill="#000" stroke="#000" stroke-width="0.2"><tspan x="0" y="0" font-size="16.6">12</tspan></text>
<text transform="translate(294.29,833.3) scale(1.0926,1)" fill="#000" stroke="#000" stroke-width="0.2"><tspan x="0" y="0" font-size="16.6">29</tspan></text>
<text transform="translate(312.78,892.8) scale(1.0710,1)" fill="#000" stroke="#000" stroke-width="0.2"><tspan x="0" y="0" font-size="16.6">13</tspan></text>
<text transform="translate(334.94,843.7) scale(1.1524,1)" fill="#000" stroke="#000" stroke-width="0.2"><tspan x="0" y="0" font-size="16.6">2</tspan></text>
<text transform="translate(386.24,874.8) scale(1.0786,1)" fill="#000" stroke="#000" stroke-width="0.2"><tspan x="0" y="0" font-size="16.6">48</tspan></text>
<text transform="translate(409.97,829.5) scale(1.1063,1)" fill="#000" stroke="#000" stroke-width="0.2"><tspan x="0" y="0" font-size="16.6">85</tspan></text>
<text transform="translate(428.05,879.9) scale(1.0514,1)" fill="#000" stroke="#000" stroke-width="0.2"><tspan x="0" y="0" font-size="16.6">45</tspan></text>
<text transform="translate(448.33,811.4) scale(1.1084,1)" fill="#000" stroke="#000" stroke-width="0.2"><tspan x="0" y="0" font-size="16.6">10</tspan></text>
<text transform="translate(499.12,912.6) scale(1.0608,1)" fill="#000" stroke="#000" stroke-width="0.2"><tspan x="0" y="0" font-size="16.6">2</tspan></text>
<text transform="translate(518.27,834.3) scale(1.1262,1)" fill="#000" stroke="#000" stroke-width="0.2"><tspan x="0" y="0" font-size="16.6">6</tspan></text>
<text transform="translate(539.92,859.2) scale(1.0291,1)" fill="#000" stroke="#000" stroke-width="0.2"><tspan x="0" y="0" font-size="16.6">5</tspan></text>
<text transform="translate(560.69,758) scale(1.1001,1)" fill="#000" stroke="#000" stroke-width="0.2"><tspan x="0" y="0" font-size="16.6">2</tspan></text>
<text transform="translate(609.04,933.5) scale(1.1421,1)" fill="#000" stroke="#000" stroke-width="0.2"><tspan x="0" y="0" font-size="16.6">0</tspan></text>
<text transform="translate(633.47,771.1) scale(1.1023,1)" fill="#000" stroke="#000" stroke-width="0.2"><tspan x="0" y="0" font-size="16.6">3</tspan></text>
<text transform="translate(653.67,811.7) scale(1.1262,1)" fill="#000" stroke="#000" stroke-width="0.2"><tspan x="0" y="0" font-size="16.6">2</tspan></text>
<text transform="translate(663.64,933.5) scale(1.1421,1)" fill="#000" stroke="#000" stroke-width="0.2"><tspan x="0" y="0" font-size="16.6">0</tspan></text>
<text transform="translate(727.41,833.1) scale(1.1188,1)" fill="#000" stroke="#000" stroke-width="0.2"><tspan x="0" y="0" font-size="16.6">116</tspan></text>
<text transform="translate(746.51,778) scale(1.0667,1)" fill="#000" stroke="#000" stroke-width="0.2"><tspan x="0" y="0" font-size="16.6">236</tspan></text>
<text transform="translate(765.73,846.1) scale(1.0469,1)" fill="#000" stroke="#000" stroke-width="0.2"><tspan x="0" y="0" font-size="16.6">90</tspan></text>
<text transform="translate(787.83,760) scale(1.0513,1)" fill="#000" stroke="#000" stroke-width="0.2"><tspan x="0" y="0" font-size="16.6">28</tspan></text>
<text transform="translate(836.84,846.3) scale(1.1014,1)" fill="#000" stroke="#000" stroke-width="0.2"><tspan x="0" y="0" font-size="16.6">18</tspan></text>
<text transform="translate(858.09,793.8) scale(1.0729,1)" fill="#000" stroke="#000" stroke-width="0.2"><tspan x="0" y="0" font-size="16.6">34</tspan></text>
<text transform="translate(878.19,864.4) scale(1.0649,1)" fill="#000" stroke="#000" stroke-width="0.2"><tspan x="0" y="0" font-size="16.6">13</tspan></text>
<text transform="translate(900.27,652.6) scale(1.0937,1)" fill="#000" stroke="#000" stroke-width="0.2"><tspan x="0" y="0" font-size="16.6">38</tspan></text>
<text transform="translate(951.98,798) scale(1.1044,1)" fill="#000" stroke="#000" stroke-width="0.2"><tspan x="0" y="0" font-size="16.6">99</tspan></text>
<text transform="translate(970.46,744.3) scale(1.0875,1)" fill="#000" stroke="#000" stroke-width="0.2"><tspan x="0" y="0" font-size="16.6">179</tspan></text>
<text transform="translate(992.68,813.1) scale(1.1044,1)" fill="#000" stroke="#000" stroke-width="0.2"><tspan x="0" y="0" font-size="16.6">69</tspan></text>
<text transform="translate(1013.4,675.8) scale(1.0586,1)" fill="#000" stroke="#000" stroke-width="0.2"><tspan x="0" y="0" font-size="16.6">57</tspan></text>
<path d="M148.6 588.6 V574.6 H228.2 V578.7 M176 574.6 V578.7 M201.7 574.6 V578.7" stroke="#000" stroke-width="2.2" fill="none"/>
<text transform="translate(156.97,594.41) scale(1.0000,1.12)" fill="#000" stroke="#000" stroke-width="0.8"><tspan x="0" y="0" font-size="16.49" font-weight="bold" font-family="'DejaVu Sans',sans-serif">*</tspan><tspan x="11.89" y="0" font-size="16.49" font-weight="bold" font-family="'DejaVu Sans',sans-serif">*</tspan><tspan x="23.78" y="0" font-size="16.49" font-weight="bold" font-family="'DejaVu Sans',sans-serif">*</tspan></text>
<text transform="translate(191.23,590.3) scale(0.8885,1)" fill="#000" stroke="#000" stroke-width="0.3"><tspan x="0" y="0" font-size="17.2" font-weight="bold">ns</tspan></text>
<text transform="translate(211.16,594.62) scale(1.0000,1.12)" fill="#000" stroke="#000" stroke-width="0.8"><tspan x="0" y="0" font-size="16.86" font-weight="bold" font-family="'DejaVu Sans',sans-serif">*</tspan><tspan x="12.15" y="0" font-size="16.86" font-weight="bold" font-family="'DejaVu Sans',sans-serif">*</tspan><tspan x="24.31" y="0" font-size="16.86" font-weight="bold" font-family="'DejaVu Sans',sans-serif">*</tspan></text>
<path d="M266.1 588.6 V574.6 H346.3 V578.7 M293.6 574.6 V578.7 M319.4 574.6 V578.7" stroke="#000" stroke-width="2.2" fill="none"/>
<text transform="translate(275.77,594.41) scale(1.0000,1.12)" fill="#000" stroke="#000" stroke-width="0.8"><tspan x="0" y="0" font-size="16.49" font-weight="bold" font-family="'DejaVu Sans',sans-serif">*</tspan><tspan x="11.89" y="0" font-size="16.49" font-weight="bold" font-family="'DejaVu Sans',sans-serif">*</tspan><tspan x="23.78" y="0" font-size="16.49" font-weight="bold" font-family="'DejaVu Sans',sans-serif">*</tspan></text>
<text transform="translate(310.92,590.3) scale(0.8995,1)" fill="#000" stroke="#000" stroke-width="0.3"><tspan x="0" y="0" font-size="17.2" font-weight="bold">ns</tspan></text>
<text transform="translate(336.32,590.3) scale(0.8940,1)" fill="#000" stroke="#000" stroke-width="0.3"><tspan x="0" y="0" font-size="17.2" font-weight="bold">ns</tspan></text>
<path d="M376.6 588.6 V574.6 H457.3 V578.7 M404.6 574.6 V578.7 M430.4 574.6 V578.7" stroke="#000" stroke-width="2.2" fill="none"/>
<text transform="translate(386.27,594.41) scale(1.0000,1.12)" fill="#000" stroke="#000" stroke-width="0.8"><tspan x="0" y="0" font-size="16.49" font-weight="bold" font-family="'DejaVu Sans',sans-serif">*</tspan><tspan x="11.89" y="0" font-size="16.49" font-weight="bold" font-family="'DejaVu Sans',sans-serif">*</tspan><tspan x="23.78" y="0" font-size="16.49" font-weight="bold" font-family="'DejaVu Sans',sans-serif">*</tspan></text>
<text transform="translate(420.33,590.3) scale(0.8885,1)" fill="#000" stroke="#000" stroke-width="0.3"><tspan x="0" y="0" font-size="17.2" font-weight="bold">ns</tspan></text>
<text transform="translate(446.17,594.5) scale(1.0000,1.12)" fill="#000" stroke="#000" stroke-width="0.8"><tspan x="0" y="0" font-size="16.65" font-weight="bold" font-family="'DejaVu Sans',sans-serif">*</tspan><tspan x="12.01" y="0" font-size="16.65" font-weight="bold" font-family="'DejaVu Sans',sans-serif">*</tspan></text>
<path d="M489.8 588.6 V574.6 H569.8 V578.7 M517.4 574.6 V578.7 M543.1 574.6 V578.7" stroke="#000" stroke-width="2.2" fill="none"/>
<text transform="translate(507.73,590.3) scale(0.8885,1)" fill="#000" stroke="#000" stroke-width="0.3"><tspan x="0" y="0" font-size="17.2" font-weight="bold">ns</tspan></text>
<text transform="translate(533.14,590.3) scale(0.8831,1)" fill="#000" stroke="#000" stroke-width="0.3"><tspan x="0" y="0" font-size="17.2" font-weight="bold">ns</tspan></text>
<text transform="translate(565.36,594.75) scale(1.0000,1.12)" fill="#000" stroke="#000" stroke-width="0.8"><tspan x="0" y="0" font-size="17.08" font-weight="bold" font-family="'DejaVu Sans',sans-serif">*</tspan></text>
<path d="M597.4 588.6 V574.6 H677 V578.7 M624.7 574.6 V578.7 M650.1 574.6 V578.7" stroke="#000" stroke-width="2.2" fill="none"/>
<text transform="translate(615.44,590.3) scale(0.8831,1)" fill="#000" stroke="#000" stroke-width="0.3"><tspan x="0" y="0" font-size="17.2" font-weight="bold">ns</tspan></text>
<text transform="translate(639.32,590.3) scale(0.8995,1)" fill="#000" stroke="#000" stroke-width="0.3"><tspan x="0" y="0" font-size="17.2" font-weight="bold">ns</tspan></text>
<text transform="translate(666.22,590.3) scale(0.8995,1)" fill="#000" stroke="#000" stroke-width="0.3"><tspan x="0" y="0" font-size="17.2" font-weight="bold">ns</tspan></text>
<path d="M707.2 588.6 V574.6 H787.3 V578.7 M734.6 574.6 V578.7 M760.4 574.6 V578.7" stroke="#000" stroke-width="2.2" fill="none"/>
<text transform="translate(716.77,594.41) scale(1.0000,1.12)" fill="#000" stroke="#000" stroke-width="0.8"><tspan x="0" y="0" font-size="16.49" font-weight="bold" font-family="'DejaVu Sans',sans-serif">*</tspan><tspan x="11.89" y="0" font-size="16.49" font-weight="bold" font-family="'DejaVu Sans',sans-serif">*</tspan><tspan x="23.78" y="0" font-size="16.49" font-weight="bold" font-family="'DejaVu Sans',sans-serif">*</tspan></text>
<text transform="translate(750.34,590.3) scale(0.8831,1)" fill="#000" stroke="#000" stroke-width="0.3"><tspan x="0" y="0" font-size="17.2" font-weight="bold">ns</tspan></text>
<text transform="translate(770.57,594.41) scale(1.0000,1.12)" fill="#000" stroke="#000" stroke-width="0.8"><tspan x="0" y="0" font-size="16.49" font-weight="bold" font-family="'DejaVu Sans',sans-serif">*</tspan><tspan x="11.89" y="0" font-size="16.49" font-weight="bold" font-family="'DejaVu Sans',sans-serif">*</tspan><tspan x="23.78" y="0" font-size="16.49" font-weight="bold" font-family="'DejaVu Sans',sans-serif">*</tspan></text>
<path d="M824.3 588.6 V574.6 H905 V578.7 M851.8 574.6 V578.7 M878 574.6 V578.7" stroke="#000" stroke-width="2.2" fill="none"/>
<text transform="translate(833.97,594.41) scale(1.0000,1.12)" fill="#000" stroke="#000" stroke-width="0.8"><tspan x="0" y="0" font-size="16.49" font-weight="bold" font-family="'DejaVu Sans',sans-serif">*</tspan><tspan x="11.89" y="0" font-size="16.49" font-weight="bold" font-family="'DejaVu Sans',sans-serif">*</tspan><tspan x="23.78" y="0" font-size="16.49" font-weight="bold" font-family="'DejaVu Sans',sans-serif">*</tspan></text>
<text transform="translate(867.53,590.3) scale(0.8885,1)" fill="#000" stroke="#000" stroke-width="0.3"><tspan x="0" y="0" font-size="17.2" font-weight="bold">ns</tspan></text>
<text transform="translate(887.77,594.53) scale(1.0000,1.12)" fill="#000" stroke="#000" stroke-width="0.8"><tspan x="0" y="0" font-size="16.7" font-weight="bold" font-family="'DejaVu Sans',sans-serif">*</tspan><tspan x="12.04" y="0" font-size="16.7" font-weight="bold" font-family="'DejaVu Sans',sans-serif">*</tspan><tspan x="24.08" y="0" font-size="16.7" font-weight="bold" font-family="'DejaVu Sans',sans-serif">*</tspan></text>
<path d="M941.5 588.6 V574.6 H1022.2 V578.7 M969.3 574.6 V578.7 M995.1 574.6 V578.7" stroke="#000" stroke-width="2.2" fill="none"/>
<text transform="translate(952.07,594.41) scale(1.0000,1.12)" fill="#000" stroke="#000" stroke-width="0.8"><tspan x="0" y="0" font-size="16.49" font-weight="bold" font-family="'DejaVu Sans',sans-serif">*</tspan><tspan x="11.89" y="0" font-size="16.49" font-weight="bold" font-family="'DejaVu Sans',sans-serif">*</tspan><tspan x="23.78" y="0" font-size="16.49" font-weight="bold" font-family="'DejaVu Sans',sans-serif">*</tspan></text>
<text transform="translate(991.38,594.14) scale(1.0000,1.12)" fill="#000" stroke="#000" stroke-width="0.8"><tspan x="0" y="0" font-size="16.04" font-weight="bold" font-family="'DejaVu Sans',sans-serif">*</tspan></text>
<text transform="translate(1005.87,594.41) scale(1.0000,1.12)" fill="#000" stroke="#000" stroke-width="0.8"><tspan x="0" y="0" font-size="16.49" font-weight="bold" font-family="'DejaVu Sans',sans-serif">*</tspan><tspan x="11.89" y="0" font-size="16.49" font-weight="bold" font-family="'DejaVu Sans',sans-serif">*</tspan><tspan x="23.78" y="0" font-size="16.49" font-weight="bold" font-family="'DejaVu Sans',sans-serif">*</tspan></text>
<text transform="translate(1.28,572.6) scale(0.9352,1)" fill="#000" stroke="#000" stroke-width="0.35"><tspan x="0" y="0" font-size="35.5" font-weight="bold">b</tspan></text>
<text transform="translate(66.89,572.9) scale(1.0310,1)" fill="#000" stroke="#000" stroke-width="0.42"><tspan x="0" y="0" font-size="26.8">1000</tspan></text>
<text transform="translate(82.18,692.2) scale(1.0351,1)" fill="#000" stroke="#000" stroke-width="0.42"><tspan x="0" y="0" font-size="26.8">100</tspan></text>
<text transform="translate(97.48,822.3) scale(1.0336,1)" fill="#000" stroke="#000" stroke-width="0.42"><tspan x="0" y="0" font-size="26.8">10</tspan></text>
<text transform="translate(113.93,934.8) scale(1.0000,1)" fill="#000" stroke="#000" stroke-width="0.42"><tspan x="0" y="0" font-size="26.8">1</tspan></text>
<text transform="translate(32,864.48) rotate(-89.35) scale(1.02,1)" fill="#000" stroke="#000" stroke-width="0.35"><tspan x="0" y="0" font-size="27.3">base substitution</tspan></text>
<text transform="translate(62.7,881.61) rotate(-89.35) scale(1.05,1)" fill="#000" stroke="#000" stroke-width="0.35"><tspan x="0" y="0" font-size="27.3">mutation rate [10</tspan><tspan x="204.85" y="-12.29" font-size="17.47">-10</tspan><tspan x="230.1" y="0" font-size="27.3">]</tspan></text>
<rect x="475.8" y="939.2" width="110" height="44.8" fill="#000"/>
<rect x="588.4" y="939.2" width="110" height="44.8" fill="#000"/>
<rect x="701" y="939.2" width="109.8" height="44.8" fill="#000"/>
<rect x="926.6" y="939.2" width="109.7" height="44.8" fill="#000"/>
<rect x="363.1" y="986.6" width="110.1" height="42.9" fill="#000"/>
<rect x="588.4" y="986.6" width="110" height="42.9" fill="#000"/>
<rect x="813.4" y="986.6" width="110.6" height="42.9" fill="#000"/>
<rect x="926.6" y="986.6" width="109.7" height="42.9" fill="#000"/>
<rect x="250" y="1032.1" width="110.5" height="42.2" fill="#000"/>
<rect x="701" y="1032.1" width="109.8" height="42.2" fill="#000"/>
<rect x="813.4" y="1032.1" width="110.6" height="42.2" fill="#000"/>
<rect x="926.6" y="1032.1" width="109.7" height="42.2" fill="#000"/>
<line x1="136" y1="938.6" x2="136" y2="1077" stroke="#cfcfcf" stroke-width="1.1"/>
<line x1="248.7" y1="938.6" x2="248.7" y2="1077" stroke="#cfcfcf" stroke-width="1.1"/>
<line x1="361.8" y1="938.6" x2="361.8" y2="1077" stroke="#cfcfcf" stroke-width="1.1"/>
<line x1="474.5" y1="938.6" x2="474.5" y2="1077" stroke="#cfcfcf" stroke-width="1.1"/>
<line x1="587.1" y1="938.6" x2="587.1" y2="1077" stroke="#cfcfcf" stroke-width="1.1"/>
<line x1="699.7" y1="938.6" x2="699.7" y2="1077" stroke="#cfcfcf" stroke-width="1.1"/>
<line x1="812.1" y1="938.6" x2="812.1" y2="1077" stroke="#cfcfcf" stroke-width="1.1"/>
<line x1="925.3" y1="938.6" x2="925.3" y2="1077" stroke="#cfcfcf" stroke-width="1.1"/>
<line x1="1037.6" y1="938.6" x2="1037.6" y2="1077" stroke="#cfcfcf" stroke-width="1.1"/>
<line x1="0" y1="985.3" x2="1037.6" y2="985.3" stroke="#cfcfcf" stroke-width="1.1"/>
<line x1="0" y1="1030.8" x2="1037.6" y2="1030.8" stroke="#cfcfcf" stroke-width="1.1"/>
<line x1="0" y1="1075.6" x2="1037.6" y2="1075.6" stroke="#cfcfcf" stroke-width="1.1"/>
<text transform="translate(189.09,977.75) scale(1.0000,1)" fill="#000"><tspan x="0" y="0" font-size="44" font-weight="bold">-</tspan></text>
<text transform="translate(301.99,977.75) scale(1.0000,1)" fill="#000"><tspan x="0" y="0" font-size="44" font-weight="bold">-</tspan></text>
<text transform="translate(414.89,977.75) scale(1.0000,1)" fill="#000"><tspan x="0" y="0" font-size="44" font-weight="bold">-</tspan></text>
<text transform="translate(524.73,975.85) scale(1.0316,1)" fill="#fff" stroke="#fff" stroke-width="0.5"><tspan x="0" y="0" font-size="38" font-weight="bold">+</tspan></text>
<text transform="translate(637.33,975.85) scale(1.0316,1)" fill="#fff" stroke="#fff" stroke-width="0.5"><tspan x="0" y="0" font-size="38" font-weight="bold">+</tspan></text>
<text transform="translate(749.83,975.85) scale(1.0316,1)" fill="#fff" stroke="#fff" stroke-width="0.5"><tspan x="0" y="0" font-size="38" font-weight="bold">+</tspan></text>
<text transform="translate(865.44,977.75) scale(1.0000,1)" fill="#000"><tspan x="0" y="0" font-size="44" font-weight="bold">-</tspan></text>
<text transform="translate(975.38,975.85) scale(1.0316,1)" fill="#fff" stroke="#fff" stroke-width="0.5"><tspan x="0" y="0" font-size="38" font-weight="bold">+</tspan></text>
<text transform="translate(189.09,1023.85) scale(1.0000,1)" fill="#000"><tspan x="0" y="0" font-size="44" font-weight="bold">-</tspan></text>
<text transform="translate(301.99,1023.85) scale(1.0000,1)" fill="#000"><tspan x="0" y="0" font-size="44" font-weight="bold">-</tspan></text>
<text transform="translate(412.08,1021.95) scale(1.0316,1)" fill="#fff" stroke="#fff" stroke-width="0.5"><tspan x="0" y="0" font-size="38" font-weight="bold">+</tspan></text>
<text transform="translate(527.54,1023.85) scale(1.0000,1)" fill="#000"><tspan x="0" y="0" font-size="44" font-weight="bold">-</tspan></text>
<text transform="translate(637.33,1021.95) scale(1.0316,1)" fill="#fff" stroke="#fff" stroke-width="0.5"><tspan x="0" y="0" font-size="38" font-weight="bold">+</tspan></text>
<text transform="translate(752.64,1023.85) scale(1.0000,1)" fill="#000"><tspan x="0" y="0" font-size="44" font-weight="bold">-</tspan></text>
<text transform="translate(862.63,1021.95) scale(1.0316,1)" fill="#fff" stroke="#fff" stroke-width="0.5"><tspan x="0" y="0" font-size="38" font-weight="bold">+</tspan></text>
<text transform="translate(975.38,1021.95) scale(1.0316,1)" fill="#fff" stroke="#fff" stroke-width="0.5"><tspan x="0" y="0" font-size="38" font-weight="bold">+</tspan></text>
<text transform="translate(189.09,1069) scale(1.0000,1)" fill="#000"><tspan x="0" y="0" font-size="44" font-weight="bold">-</tspan></text>
<text transform="translate(299.18,1067.1) scale(1.0316,1)" fill="#fff" stroke="#fff" stroke-width="0.5"><tspan x="0" y="0" font-size="38" font-weight="bold">+</tspan></text>
<text transform="translate(414.89,1069) scale(1.0000,1)" fill="#000"><tspan x="0" y="0" font-size="44" font-weight="bold">-</tspan></text>
<text transform="translate(527.54,1069) scale(1.0000,1)" fill="#000"><tspan x="0" y="0" font-size="44" font-weight="bold">-</tspan></text>
<text transform="translate(640.14,1069) scale(1.0000,1)" fill="#000"><tspan x="0" y="0" font-size="44" font-weight="bold">-</tspan></text>
<text transform="translate(749.83,1067.1) scale(1.0316,1)" fill="#fff" stroke="#fff" stroke-width="0.5"><tspan x="0" y="0" font-size="38" font-weight="bold">+</tspan></text>
<text transform="translate(862.63,1067.1) scale(1.0316,1)" fill="#fff" stroke="#fff" stroke-width="0.5"><tspan x="0" y="0" font-size="38" font-weight="bold">+</tspan></text>
<text transform="translate(975.38,1067.1) scale(1.0316,1)" fill="#fff" stroke="#fff" stroke-width="0.5"><tspan x="0" y="0" font-size="38" font-weight="bold">+</tspan></text>
<text transform="translate(98.99,972.1) scale(0.9983,1)" fill="#000" stroke="#000" stroke-width="0.35"><tspan x="0" y="0" font-size="25.7">TE</tspan></text>
<text transform="translate(-0.82,1020.3) scale(1.0326,1)" fill="#000" stroke="#000" stroke-width="0.35"><tspan x="0" y="0" font-size="25.7">H3K27me3</tspan></text>
<text transform="translate(13.67,1066.8) scale(1.0358,1)" fill="#000" stroke="#000" stroke-width="0.35"><tspan x="0" y="0" font-size="25.7">H3K9me3</tspan></text>
<rect x="1195" y="7.5" width="371.4" height="429.3" fill="#fff"/>
<path d="M1215.4 437.7 V33.6 Q1215.4 32.1 1216.9 32.1 H1264.1 Q1265.6 32.1 1265.6 33.6 V437.7 Z" fill="#ADB9A5"/>
<path d="M1215.4 437.7 V338.9 Q1215.4 337.4 1216.9 337.4 H1264.1 Q1265.6 337.4 1265.6 338.9 V437.7 Z" fill="#385723"/>
<line x1="1215.4" y1="436.8" x2="1265.6" y2="436.8" stroke="#fff" stroke-width="1.3" stroke-opacity="0.5"/>
<path d="M1308 437.7 V33.6 Q1308 32.1 1309.5 32.1 H1356.7 Q1358.2 32.1 1358.2 33.6 V437.7 Z" fill="#EAA893"/>
<path d="M1308 437.7 V337.7 Q1308 336.2 1309.5 336.2 H1356.7 Q1358.2 336.2 1358.2 337.7 V437.7 Z" fill="#CC3300"/>
<line x1="1308" y1="436.8" x2="1358.2" y2="436.8" stroke="#fff" stroke-width="1.3" stroke-opacity="0.5"/>
<path d="M1400.35 437.7 V33.6 Q1400.35 32.1 1401.85 32.1 H1449.05 Q1450.55 32.1 1450.55 33.6 V437.7 Z" fill="#F6C29F"/>
<path d="M1400.35 437.7 V362.1 Q1400.35 360.6 1401.85 360.6 H1449.05 Q1450.55 360.6 1450.55 362.1 V437.7 Z" fill="#ED7D31"/>
<line x1="1400.35" y1="436.8" x2="1450.55" y2="436.8" stroke="#fff" stroke-width="1.3" stroke-opacity="0.5"/>
<path d="M1492.5 437.7 V33.6 Q1492.5 32.1 1494 32.1 H1541.2 Q1542.7 32.1 1542.7 33.6 V437.7 Z" fill="#FFE38E"/>
<path d="M1492.5 437.7 V291.9 Q1492.5 290.4 1494 290.4 H1541.2 Q1542.7 290.4 1542.7 291.9 V437.7 Z" fill="#FFC000"/>
<line x1="1492.5" y1="436.8" x2="1542.7" y2="436.8" stroke="#fff" stroke-width="1.3" stroke-opacity="0.5"/>
<rect x="1195" y="7.5" width="371.4" height="429.3" fill="none" stroke="#000" stroke-width="1.2" stroke-opacity="0.09"/>
<line x1="1195" y1="33.8" x2="1563.7" y2="33.8" stroke="#000" stroke-width="1.1" stroke-opacity="0.17"/>
<line x1="1195" y1="135.4" x2="1563.7" y2="135.4" stroke="#000" stroke-width="1.1" stroke-opacity="0.17"/>
<line x1="1195" y1="236.2" x2="1563.7" y2="236.2" stroke="#000" stroke-width="1.1" stroke-opacity="0.17"/>
<line x1="1195" y1="337.3" x2="1563.7" y2="337.3" stroke="#000" stroke-width="1.1" stroke-opacity="0.17"/>
<line x1="1194.4" y1="438.1" x2="1563.7" y2="438.1" stroke="#000" stroke-width="1.2" stroke-opacity="0.13"/>
<path d="M1241 27.1 V14.3 H1521.1 V18 M1333.1 14.3 V18 M1424.6 14.3 V18" stroke="#000" stroke-width="1.8" fill="none"/>
<text transform="translate(1322.56,30.6) scale(1.0312,1)" fill="#000" stroke="#000" stroke-width="0.3"><tspan x="0" y="0" font-size="17.2" font-weight="bold">ns</tspan></text>
<text transform="translate(1419.62,37.76) scale(1.0000,1.12)" fill="#000" stroke="#000" stroke-width="0.8"><tspan x="0" y="0" font-size="19.17" font-weight="bold" font-family="'DejaVu Sans',sans-serif">*</tspan></text>
<text transform="translate(1508.5,38.14) scale(1.0000,1.12)" fill="#000" stroke="#000" stroke-width="0.8"><tspan x="0" y="0" font-size="19.82" font-weight="bold" font-family="'DejaVu Sans',sans-serif">*</tspan><tspan x="14.29" y="0" font-size="19.82" font-weight="bold" font-family="'DejaVu Sans',sans-serif">*</tspan></text>
<text transform="translate(1071,25.5) scale(0.7986,1)" fill="#000" stroke="#000" stroke-width="0.35"><tspan x="0" y="0" font-size="34.5" font-weight="bold">c</tspan></text>
<text transform="translate(1125.18,70.9) scale(0.9511,1)" fill="#000" stroke="#000" stroke-width="0.4"><tspan x="0" y="0" font-size="26.5">100%</tspan></text>
<text transform="translate(1140.26,166.2) scale(0.9325,1)" fill="#000" stroke="#000" stroke-width="0.4"><tspan x="0" y="0" font-size="26.5">75%</tspan></text>
<text transform="translate(1139.7,258.9) scale(0.9434,1)" fill="#000" stroke="#000" stroke-width="0.4"><tspan x="0" y="0" font-size="26.5">50%</tspan></text>
<text transform="translate(1139.44,351.9) scale(0.9483,1)" fill="#000" stroke="#000" stroke-width="0.4"><tspan x="0" y="0" font-size="26.5">25%</tspan></text>
<text transform="translate(1153.81,436.9) scale(0.9338,1)" fill="#000" stroke="#000" stroke-width="0.4"><tspan x="0" y="0" font-size="26.5">0%</tspan></text>
<text transform="translate(1111,352.25) rotate(-90) scale(1,1)" fill="#000" stroke="#000" stroke-width="0.35"><tspan x="0" y="0" font-size="26.5">rel. frequency [%]</tspan></text>
<text transform="translate(1247.6,234.6) rotate(-90) scale(1.12,1)" fill="#000" stroke="#000" stroke-width="0.38"><tspan x="0" y="0" font-size="17.8">transitions</tspan></text>
<text transform="translate(1340.2,234.6) rotate(-90) scale(1.12,1)" fill="#000" stroke="#000" stroke-width="0.38"><tspan x="0" y="0" font-size="17.8">transitions</tspan></text>
<text transform="translate(1432.55,234.6) rotate(-90) scale(1.12,1)" fill="#000" stroke="#000" stroke-width="0.38"><tspan x="0" y="0" font-size="17.8">transitions</tspan></text>
<text transform="translate(1524.7,234.6) rotate(-90) scale(1.12,1)" fill="#000" stroke="#000" stroke-width="0.38"><tspan x="0" y="0" font-size="17.8">transitions</tspan></text>
<text transform="translate(1236.1,415.81) rotate(-90) scale(1.16,1)" fill="#000" stroke="#000" stroke-width="0.38"><tspan x="0" y="0" font-size="17.8">trans-</tspan></text>
<text transform="translate(1258.1,425.6) rotate(-90) scale(1.06,1)" fill="#000" stroke="#000" stroke-width="0.38"><tspan x="0" y="0" font-size="17.8">versions</tspan></text>
<text transform="translate(1328.7,415.5) rotate(-90) scale(1.13,1)" fill="#000" stroke="#000" stroke-width="0.38"><tspan x="0" y="0" font-size="17.8">trans-</tspan></text>
<text transform="translate(1350.7,425.7) rotate(-90) scale(1.07,1)" fill="#000" stroke="#000" stroke-width="0.38"><tspan x="0" y="0" font-size="17.8">versions</tspan></text>
<text transform="translate(1421.05,424.6) rotate(-90) scale(1.14,1)" fill="#000" stroke="#000" stroke-width="0.38"><tspan x="0" y="0" font-size="17.8">trans-</tspan></text>
<text transform="translate(1443.05,434.8) rotate(-90) scale(1.07,1)" fill="#000" stroke="#000" stroke-width="0.38"><tspan x="0" y="0" font-size="17.8">versions</tspan></text>
<text transform="translate(1513.2,394.9) rotate(-90) scale(1.15,1)" fill="#000" stroke="#000" stroke-width="0.38"><tspan x="0" y="0" font-size="17.8">trans-</tspan></text>
<text transform="translate(1535.2,404.9) rotate(-90) scale(1.07,1)" fill="#000" stroke="#000" stroke-width="0.38"><tspan x="0" y="0" font-size="17.8">versions</tspan></text>
<text transform="translate(1182.77,465.5) scale(1.0097,1)" fill="#000" stroke="#000" stroke-width="0.35"><tspan x="0" y="0" font-size="24.5">IPO323</tspan></text>
<text transform="translate(1184.83,493.9) scale(1.0435,1)" fill="#000" stroke="#000" stroke-width="0.35"><tspan x="0" y="0" font-size="24.5">Δchr18</tspan></text>
<text transform="translate(1278.33,469) scale(1.0286,1)" fill="#000" stroke="#000" stroke-width="0.35"><tspan x="0" y="0" font-size="24.5">IPO323</tspan></text>
<text transform="translate(1279.83,497.5) scale(1.0488,1)" fill="#000" stroke="#000" stroke-width="0.35"><tspan x="0" y="0" font-size="24.5">Δchr18</tspan></text>
<text transform="translate(1279.81,526) scale(1.0782,1)" fill="#000" stroke="#000" stroke-width="0.35"><tspan x="0" y="0" font-size="24.5">Δ</tspan><tspan x="16.37" y="0" font-size="24.5" font-style="italic">kmt1</tspan></text>
<text transform="translate(1377.43,468.8) scale(1.0298,1)" fill="#000" stroke="#000" stroke-width="0.35"><tspan x="0" y="0" font-size="24.5">IPO323</tspan></text>
<text transform="translate(1378.43,497.2) scale(1.0541,1)" fill="#000" stroke="#000" stroke-width="0.35"><tspan x="0" y="0" font-size="24.5">Δchr18</tspan></text>
<text transform="translate(1378.41,525.8) scale(1.0693,1)" fill="#000" stroke="#000" stroke-width="0.35"><tspan x="0" y="0" font-size="24.5">Δ</tspan><tspan x="16.37" y="0" font-size="24.5" font-style="italic">kmt6</tspan></text>
<text transform="translate(1475.53,468) scale(1.0286,1)" fill="#000" stroke="#000" stroke-width="0.35"><tspan x="0" y="0" font-size="24.5">IPO323</tspan></text>
<text transform="translate(1476.53,496.2) scale(1.0541,1)" fill="#000" stroke="#000" stroke-width="0.35"><tspan x="0" y="0" font-size="24.5">Δchr18</tspan></text>
<text transform="translate(1473.89,518.8) scale(1.0655,1)" fill="#000" stroke="#000" stroke-width="0.35"><tspan x="0" y="0" font-size="20.5">(4w, 28°C)</tspan></text>
<rect x="1704.8" y="6.3" width="346" height="436.8" fill="#fff"/>
<line x1="1704.8" y1="24.3" x2="2050.8" y2="24.3" stroke="#e2e2e2" stroke-width="1.1"/>
<line x1="1704.8" y1="108.3" x2="2050.8" y2="108.3" stroke="#e2e2e2" stroke-width="1.1"/>
<line x1="1704.8" y1="275.1" x2="2050.8" y2="275.1" stroke="#e2e2e2" stroke-width="1.1"/>
<line x1="1704.8" y1="191.8" x2="1989.8" y2="191.8" stroke="#f6f6f6" stroke-width="1"/>
<line x1="1989.8" y1="191.8" x2="2050.8" y2="191.8" stroke="#e2e2e2" stroke-width="1.1"/>
<line x1="1704.8" y1="358.6" x2="2050.8" y2="358.6" stroke="#f1f1f1" stroke-width="1"/>
<rect x="1729.6" y="287.9" width="25.7" height="153.9" fill="#385723"/>
<rect x="1761.8" y="245" width="25.7" height="196.8" fill="#CC3300"/>
<rect x="1794.3" y="333" width="25.7" height="108.8" fill="#ED7D31"/>
<rect x="1826.4" y="173.5" width="25.7" height="268.3" fill="#FFC000"/>
<rect x="1907.6" y="411" width="25.7" height="30.8" fill="#385723"/>
<rect x="1940.1" y="347.1" width="25.7" height="94.7" fill="#CC3300"/>
<rect x="1972.4" y="371.4" width="25.7" height="70.4" fill="#ED7D31"/>
<rect x="2004.9" y="237" width="25.7" height="204.8" fill="#FFC000"/>
<rect x="1704.8" y="6.3" width="346" height="436.8" fill="none" stroke="#d6d6d6" stroke-width="1.4"/>
<path d="M1742.2 272.9 V305.5 M1739.5 272.9 H1744.9 M1739.5 305.5 H1744.9" stroke="#5c5c5c" stroke-width="1" fill="none"/>
<path d="M1774.5 235.5 V256.1 M1771.8 235.5 H1777.2 M1771.8 256.1 H1777.2" stroke="#5c5c5c" stroke-width="1" fill="none"/>
<path d="M1806.8 305.2 V370.1 M1804.1 305.2 H1809.5 M1804.1 370.1 H1809.5" stroke="#5c5c5c" stroke-width="1" fill="none"/>
<path d="M1838.4 161.4 V188.5 M1835.7 161.4 H1841.1 M1835.7 188.5 H1841.1" stroke="#5c5c5c" stroke-width="1" fill="none"/>
<path d="M1919.9 365.4 V443.6 M1917.2 365.4 H1922.6 M1917.2 443.6 H1922.6" stroke="#5c5c5c" stroke-width="1" fill="none"/>
<path d="M1951.7 324.5 V376.4 M1949 324.5 H1954.4 M1949 376.4 H1954.4" stroke="#5c5c5c" stroke-width="1" fill="none"/>
<path d="M1984.1 343.6 V408 M1981.4 343.6 H1986.8 M1981.4 408 H1986.8" stroke="#5c5c5c" stroke-width="1" fill="none"/>
<path d="M2016.2 219.6 V258.6 M2013.5 219.6 H2018.9 M2013.5 258.6 H2018.9" stroke="#5c5c5c" stroke-width="1" fill="none"/>
<text transform="translate(1743.87,280.1) scale(0.9804,1)" fill="#000" stroke="#000" stroke-width="0.25"><tspan x="0" y="0" font-size="17">21</tspan></text>
<text transform="translate(1777.32,237.7) scale(1.0051,1)" fill="#000" stroke="#000" stroke-width="0.25"><tspan x="0" y="0" font-size="17">53</tspan></text>
<text transform="translate(1811.03,325.8) scale(1.0230,1)" fill="#000" stroke="#000" stroke-width="0.25"><tspan x="0" y="0" font-size="17">6</tspan></text>
<text transform="translate(1840.72,170) scale(0.9955,1)" fill="#000" stroke="#000" stroke-width="0.25"><tspan x="0" y="0" font-size="17">30</tspan></text>
<text transform="translate(1921.31,406.2) scale(1.0486,1)" fill="#000" stroke="#000" stroke-width="0.25"><tspan x="0" y="0" font-size="17">2</tspan></text>
<text transform="translate(1952.54,342.1) scale(1.1253,1)" fill="#000" stroke="#000" stroke-width="0.25"><tspan x="0" y="0" font-size="17">9</tspan></text>
<text transform="translate(1983.92,367.1) scale(1.0358,1)" fill="#000" stroke="#000" stroke-width="0.25"><tspan x="0" y="0" font-size="17">6</tspan></text>
<text transform="translate(2017.88,231.4) scale(0.9706,1)" fill="#000" stroke="#000" stroke-width="0.25"><tspan x="0" y="0" font-size="17">15</tspan></text>
<path d="M1741.9 43.4 V30.8 H1838.7 V35 M1774.8 30.8 V35 M1806.8 30.8 V35" stroke="#000" stroke-width="2.2" fill="none"/>
<text transform="translate(1754.21,53.19) scale(1.0000,1.12)" fill="#000" stroke="#000" stroke-width="0.8"><tspan x="0" y="0" font-size="19.56" font-weight="bold" font-family="'DejaVu Sans',sans-serif">*</tspan><tspan x="14.1" y="0" font-size="19.56" font-weight="bold" font-family="'DejaVu Sans',sans-serif">*</tspan><tspan x="28.21" y="0" font-size="19.56" font-weight="bold" font-family="'DejaVu Sans',sans-serif">*</tspan></text>
<text transform="translate(1800.56,54.54) scale(1.0000,1.12)" fill="#000" stroke="#000" stroke-width="0.8"><tspan x="0" y="0" font-size="21.88" font-weight="bold" font-family="'DejaVu Sans',sans-serif">*</tspan></text>
<text transform="translate(1820.11,53.25) scale(1.0000,1.12)" fill="#000" stroke="#000" stroke-width="0.8"><tspan x="0" y="0" font-size="19.67" font-weight="bold" font-family="'DejaVu Sans',sans-serif">*</tspan><tspan x="14.18" y="0" font-size="19.67" font-weight="bold" font-family="'DejaVu Sans',sans-serif">*</tspan><tspan x="28.36" y="0" font-size="19.67" font-weight="bold" font-family="'DejaVu Sans',sans-serif">*</tspan></text>
<path d="M1922.7 43.4 V30.8 H2024.2 V35 M1956 30.8 V35 M1989.3 30.8 V35" stroke="#000" stroke-width="2.2" fill="none"/>
<text transform="translate(1949.66,54.54) scale(1.0000,1.12)" fill="#000" stroke="#000" stroke-width="0.8"><tspan x="0" y="0" font-size="21.87" font-weight="bold" font-family="'DejaVu Sans',sans-serif">*</tspan></text>
<text transform="translate(1978.56,47.6) scale(1.0312,1)" fill="#000" stroke="#000" stroke-width="0.3"><tspan x="0" y="0" font-size="17.2" font-weight="bold">ns</tspan></text>
<text transform="translate(2004.9,53.5) scale(1.0000,1.12)" fill="#000" stroke="#000" stroke-width="0.8"><tspan x="0" y="0" font-size="20.08" font-weight="bold" font-family="'DejaVu Sans',sans-serif">*</tspan><tspan x="14.48" y="0" font-size="20.08" font-weight="bold" font-family="'DejaVu Sans',sans-serif">*</tspan><tspan x="28.96" y="0" font-size="20.08" font-weight="bold" font-family="'DejaVu Sans',sans-serif">*</tspan></text>
<text transform="translate(1595.77,25.3) scale(0.9334,1)" fill="#000" stroke="#000" stroke-width="0.35"><tspan x="0" y="0" font-size="35.5" font-weight="bold">d</tspan></text>
<text transform="translate(1626.83,113.3) scale(1.0504,1)" fill="#000" stroke="#000" stroke-width="0.4"><tspan x="0" y="0" font-size="25.8">1</tspan><tspan x="14.35" y="-0" font-size="29.67">*</tspan><tspan x="25.9" y="0" font-size="25.8">10</tspan><tspan x="54.59" y="-11.35" font-size="17.03">-2</tspan></text>
<text transform="translate(1626.68,283.9) scale(1.0258,1)" fill="#000" stroke="#000" stroke-width="0.4"><tspan x="0" y="0" font-size="25.8">1</tspan><tspan x="14.35" y="-0" font-size="29.67">*</tspan><tspan x="25.9" y="0" font-size="25.8">10</tspan><tspan x="54.59" y="-11.35" font-size="17.03">-4</tspan></text>
<text transform="translate(1628.15,438.6) scale(1.0415,1)" fill="#000" stroke="#000" stroke-width="0.4"><tspan x="0" y="0" font-size="25.8">1</tspan><tspan x="14.35" y="-0" font-size="29.67">*</tspan><tspan x="25.9" y="0" font-size="25.8">10</tspan><tspan x="54.59" y="-11.35" font-size="17.03">-6</tspan></text>
<text transform="translate(1622.2,335.17) rotate(-90) scale(0.99,1)" fill="#000" stroke="#000" stroke-width="0.35"><tspan x="0" y="0" font-size="27">rate [chr</tspan><tspan x="99.03" y="-12.15" font-size="17.28">-1</tspan><tspan x="114.39" y="-0" font-size="31.05">*</tspan><tspan x="126.47" y="0" font-size="27">gen</tspan><tspan x="171.52" y="-12.15" font-size="17.28">-1</tspan><tspan x="186.88" y="0" font-size="27">]</tspan></text>
<text transform="translate(1709.73,465.4) scale(1.0294,1)" fill="#000" stroke="#000" stroke-width="0.35"><tspan x="0" y="0" font-size="25.9">chromosome</tspan></text>
<text transform="translate(1767.86,493.4) scale(0.9595,1)" fill="#000" stroke="#000" stroke-width="0.35"><tspan x="0" y="0" font-size="25.9">loss</tspan></text>
<text transform="translate(1891.04,465.4) scale(1.0253,1)" fill="#000" stroke="#000" stroke-width="0.35"><tspan x="0" y="0" font-size="25.9">chromosome</tspan></text>
<text transform="translate(1906.01,493.4) scale(1.0533,1)" fill="#000" stroke="#000" stroke-width="0.35"><tspan x="0" y="0" font-size="25.9">duplication</tspan></text>
<rect x="1197.7" y="550" width="852.1" height="436.3" fill="#fff"/>
<line x1="1197.7" y1="567.5" x2="2049.8" y2="567.5" stroke="#d9d9d9" stroke-width="1.1"/>
<line x1="1197.7" y1="651.2" x2="2049.8" y2="651.2" stroke="#d9d9d9" stroke-width="1.1"/>
<line x1="1197.7" y1="734.4" x2="2049.8" y2="734.4" stroke="#d9d9d9" stroke-width="1.1"/>
<line x1="1197.7" y1="818" x2="2049.8" y2="818" stroke="#d9d9d9" stroke-width="1.1"/>
<line x1="1197.7" y1="901.4" x2="2049.8" y2="901.4" stroke="#d9d9d9" stroke-width="1.1"/>
<rect x="1228.7" y="849.2" width="30.8" height="135.8" fill="#385723"/>
<rect x="1267.17" y="736" width="30.8" height="249" fill="#CC3300"/>
<rect x="1305.64" y="821.5" width="30.8" height="163.5" fill="#ED7D31"/>
<rect x="1344.11" y="768.6" width="30.8" height="216.4" fill="#FFC000"/>
<rect x="1440.9" y="792.2" width="30.8" height="192.8" fill="#385723"/>
<rect x="1479.37" y="870.5" width="30.8" height="114.5" fill="#CC3300"/>
<rect x="1517.84" y="776.1" width="30.8" height="208.9" fill="#ED7D31"/>
<rect x="1556.31" y="754.4" width="30.8" height="230.6" fill="#FFC000"/>
<rect x="1653.1" y="755.7" width="30.8" height="229.3" fill="#385723"/>
<rect x="1691.57" y="706.2" width="30.8" height="278.8" fill="#CC3300"/>
<rect x="1730.04" y="745.2" width="30.8" height="239.8" fill="#ED7D31"/>
<rect x="1768.51" y="644.5" width="30.8" height="340.5" fill="#FFC000"/>
<rect x="1865.2" y="920.1" width="30.8" height="64.9" fill="#385723"/>
<rect x="1903.67" y="860.1" width="30.8" height="124.9" fill="#CC3300"/>
<rect x="1942.14" y="894.5" width="30.8" height="90.5" fill="#ED7D31"/>
<rect x="1980.61" y="818.6" width="30.8" height="166.4" fill="#FFC000"/>
<rect x="1197.7" y="550" width="852.1" height="436.3" fill="none" stroke="#d4d4d4" stroke-width="1.3"/>
<path d="M1244.5 823.8 V883.3 M1241.5 823.8 H1247.5 M1241.5 883.3 H1247.5" stroke="#5c5c5c" stroke-width="1" fill="none"/>
<path d="M1282.97 730.6 V743.6 M1279.97 730.6 H1285.97 M1279.97 743.6 H1285.97" stroke="#5c5c5c" stroke-width="1" fill="none"/>
<path d="M1321.44 804.2 V843.3 M1318.44 804.2 H1324.44 M1318.44 843.3 H1324.44" stroke="#5c5c5c" stroke-width="1" fill="none"/>
<path d="M1359.91 734.7 V816.4 M1356.91 734.7 H1362.91 M1356.91 816.4 H1362.91" stroke="#5c5c5c" stroke-width="1" fill="none"/>
<path d="M1456.7 780.7 V806.4 M1453.7 780.7 H1459.7 M1453.7 806.4 H1459.7" stroke="#5c5c5c" stroke-width="1" fill="none"/>
<path d="M1495.17 832.1 V928.6 M1492.17 832.1 H1498.17 M1492.17 928.6 H1498.17" stroke="#5c5c5c" stroke-width="1" fill="none"/>
<path d="M1533.64 767 V787.2 M1530.64 767 H1536.64 M1530.64 787.2 H1536.64" stroke="#5c5c5c" stroke-width="1" fill="none"/>
<path d="M1572.11 726.4 V791 M1569.11 726.4 H1575.11 M1569.11 791 H1575.11" stroke="#5c5c5c" stroke-width="1" fill="none"/>
<path d="M1668.9 749 V764.1 M1665.9 749 H1671.9 M1665.9 764.1 H1671.9" stroke="#5c5c5c" stroke-width="1" fill="none"/>
<path d="M1707.37 702.4 V710.7 M1704.37 702.4 H1710.37 M1704.37 710.7 H1710.37" stroke="#5c5c5c" stroke-width="1" fill="none"/>
<path d="M1745.84 739.8 V752.5 M1742.84 739.8 H1748.84 M1742.84 752.5 H1748.84" stroke="#5c5c5c" stroke-width="1" fill="none"/>
<path d="M1784.31 638.6 V651.2 M1781.31 638.6 H1787.31 M1781.31 651.2 H1787.31" stroke="#5c5c5c" stroke-width="1" fill="none"/>
<path d="M1881 858.5 V986.4 M1878 858.5 H1884 M1878 986.4 H1884" stroke="#5c5c5c" stroke-width="1" fill="none"/>
<path d="M1919.47 826.2 V907.5 M1916.47 826.2 H1922.47 M1916.47 907.5 H1922.47" stroke="#5c5c5c" stroke-width="1" fill="none"/>
<path d="M1957.94 848.6 V972.3 M1954.94 848.6 H1960.94 M1954.94 972.3 H1960.94" stroke="#5c5c5c" stroke-width="1" fill="none"/>
<path d="M1996.41 757.1 V952.8 M1993.41 757.1 H1999.41 M1993.41 952.8 H1999.41" stroke="#5c5c5c" stroke-width="1" fill="none"/>
<text transform="translate(1251.03,844.1) scale(1.0230,1)" fill="#000" stroke="#000" stroke-width="0.25"><tspan x="0" y="0" font-size="17">7</tspan></text>
<text transform="translate(1282.97,732.5) scale(0.9778,1)" fill="#000" stroke="#000" stroke-width="0.25"><tspan x="0" y="0" font-size="17">122</tspan></text>
<text transform="translate(1321.25,815) scale(0.9176,1)" fill="#000" stroke="#000" stroke-width="0.25"><tspan x="0" y="0" font-size="17">15</tspan></text>
<text transform="translate(1364.66,764.8) scale(1.0035,1)" fill="#000" stroke="#000" stroke-width="0.25"><tspan x="0" y="0" font-size="17">4</tspan></text>
<text transform="translate(1459.96,787.7) scale(0.9356,1)" fill="#000" stroke="#000" stroke-width="0.25"><tspan x="0" y="0" font-size="17">34</tspan></text>
<text transform="translate(1501.72,866.5) scale(1.0013,1)" fill="#000" stroke="#000" stroke-width="0.25"><tspan x="0" y="0" font-size="17">3</tspan></text>
<text transform="translate(1536.75,770.7) scale(0.9537,1)" fill="#000" stroke="#000" stroke-width="0.25"><tspan x="0" y="0" font-size="17">53</tspan></text>
<text transform="translate(1579.03,750.6) scale(1.0230,1)" fill="#000" stroke="#000" stroke-width="0.25"><tspan x="0" y="0" font-size="17">6</tspan></text>
<text transform="translate(1673.28,752.8) scale(0.9631,1)" fill="#000" stroke="#000" stroke-width="0.25"><tspan x="0" y="0" font-size="17">93</tspan></text>
<text transform="translate(1708.29,702.1) scale(0.9517,1)" fill="#000" stroke="#000" stroke-width="0.25"><tspan x="0" y="0" font-size="17">281</tspan></text>
<text transform="translate(1747.43,741.5) scale(0.9358,1)" fill="#000" stroke="#000" stroke-width="0.25"><tspan x="0" y="0" font-size="17">123</tspan></text>
<text transform="translate(1785.7,641.5) scale(0.9549,1)" fill="#000" stroke="#000" stroke-width="0.25"><tspan x="0" y="0" font-size="17">123</tspan></text>
<text transform="translate(1886.07,915.3) scale(0.9029,1)" fill="#000" stroke="#000" stroke-width="0.25"><tspan x="0" y="0" font-size="17">1</tspan></text>
<text transform="translate(1924.27,858) scale(0.9804,1)" fill="#000" stroke="#000" stroke-width="0.25"><tspan x="0" y="0" font-size="17">4</tspan></text>
<text transform="translate(1962.35,890.7) scale(0.9974,1)" fill="#000" stroke="#000" stroke-width="0.25"><tspan x="0" y="0" font-size="17">2</tspan></text>
<text transform="translate(2001.61,814.4) scale(0.8755,1)" fill="#000" stroke="#000" stroke-width="0.25"><tspan x="0" y="0" font-size="17">1</tspan></text>
<path d="M1230.7 590.3 V574.5 H1352.9 V579 M1271.4 574.5 V579 M1311.2 574.5 V579" stroke="#000" stroke-width="2.2" fill="none"/>
<path d="M1448.8 590.3 V574.5 H1571.5 V579 M1489.7 574.5 V579 M1529.6 574.5 V579" stroke="#000" stroke-width="2.2" fill="none"/>
<path d="M1659 590.3 V574.5 H1781 V579 M1698.9 574.5 V579 M1738.8 574.5 V579" stroke="#000" stroke-width="2.2" fill="none"/>
<path d="M1871.5 590.3 V574.5 H1993.5 V579 M1911.7 574.5 V579 M1951.5 574.5 V579" stroke="#000" stroke-width="2.2" fill="none"/>
<text transform="translate(1249.78,600.84) scale(1.0000,1.12)" fill="#000" stroke="#000" stroke-width="0.8"><tspan x="0" y="0" font-size="21.02" font-weight="bold" font-family="'DejaVu Sans',sans-serif">*</tspan><tspan x="15.15" y="0" font-size="21.02" font-weight="bold" font-family="'DejaVu Sans',sans-serif">*</tspan><tspan x="30.31" y="0" font-size="21.02" font-weight="bold" font-family="'DejaVu Sans',sans-serif">*</tspan></text>
<text transform="translate(1300.52,593.9) scale(1.0641,1)" fill="#000" stroke="#000" stroke-width="0.3"><tspan x="0" y="0" font-size="17.2" font-weight="bold">ns</tspan></text>
<text transform="translate(1339.97,601.26) scale(1.0000,1.12)" fill="#000" stroke="#000" stroke-width="0.8"><tspan x="0" y="0" font-size="21.73" font-weight="bold" font-family="'DejaVu Sans',sans-serif">*</tspan><tspan x="15.67" y="0" font-size="21.73" font-weight="bold" font-family="'DejaVu Sans',sans-serif">*</tspan></text>
<text transform="translate(1467.88,600.84) scale(1.0000,1.12)" fill="#000" stroke="#000" stroke-width="0.8"><tspan x="0" y="0" font-size="21.02" font-weight="bold" font-family="'DejaVu Sans',sans-serif">*</tspan><tspan x="15.15" y="0" font-size="21.02" font-weight="bold" font-family="'DejaVu Sans',sans-serif">*</tspan><tspan x="30.31" y="0" font-size="21.02" font-weight="bold" font-family="'DejaVu Sans',sans-serif">*</tspan></text>
<text transform="translate(1518.62,593.9) scale(1.0641,1)" fill="#000" stroke="#000" stroke-width="0.3"><tspan x="0" y="0" font-size="17.2" font-weight="bold">ns</tspan></text>
<text transform="translate(1561.18,593.9) scale(1.0147,1)" fill="#000" stroke="#000" stroke-width="0.3"><tspan x="0" y="0" font-size="17.2" font-weight="bold">ns</tspan></text>
<text transform="translate(1677.88,600.69) scale(1.0000,1.12)" fill="#000" stroke="#000" stroke-width="0.8"><tspan x="0" y="0" font-size="20.76" font-weight="bold" font-family="'DejaVu Sans',sans-serif">*</tspan><tspan x="14.97" y="0" font-size="20.76" font-weight="bold" font-family="'DejaVu Sans',sans-serif">*</tspan><tspan x="29.93" y="0" font-size="20.76" font-weight="bold" font-family="'DejaVu Sans',sans-serif">*</tspan></text>
<text transform="translate(1728.66,593.9) scale(1.0312,1)" fill="#000" stroke="#000" stroke-width="0.3"><tspan x="0" y="0" font-size="17.2" font-weight="bold">ns</tspan></text>
<text transform="translate(1760.78,600.78) scale(1.0000,1.12)" fill="#000" stroke="#000" stroke-width="0.8"><tspan x="0" y="0" font-size="20.92" font-weight="bold" font-family="'DejaVu Sans',sans-serif">*</tspan><tspan x="15.08" y="0" font-size="20.92" font-weight="bold" font-family="'DejaVu Sans',sans-serif">*</tspan><tspan x="30.16" y="0" font-size="20.92" font-weight="bold" font-family="'DejaVu Sans',sans-serif">*</tspan></text>
<text transform="translate(1899.66,593.9) scale(1.0312,1)" fill="#000" stroke="#000" stroke-width="0.3"><tspan x="0" y="0" font-size="17.2" font-weight="bold">ns</tspan></text>
<text transform="translate(1940.85,593.9) scale(1.0366,1)" fill="#000" stroke="#000" stroke-width="0.3"><tspan x="0" y="0" font-size="17.2" font-weight="bold">ns</tspan></text>
<text transform="translate(1982.55,593.9) scale(1.0366,1)" fill="#000" stroke="#000" stroke-width="0.3"><tspan x="0" y="0" font-size="17.2" font-weight="bold">ns</tspan></text>
<text transform="translate(1071.39,567.1) scale(1.0191,1)" fill="#000" stroke="#000" stroke-width="0.35"><tspan x="0" y="0" font-size="37" font-weight="bold">e</tspan></text>
<text transform="translate(1146.23,576.2) scale(1.0053,1)" fill="#000" stroke="#000" stroke-width="0.42"><tspan x="0" y="0" font-size="25.8">100</tspan></text>
<text transform="translate(1160.42,660.2) scale(1.0078,1)" fill="#000" stroke="#000" stroke-width="0.42"><tspan x="0" y="0" font-size="25.8">10</tspan></text>
<text transform="translate(1154.07,828.8) scale(0.9958,1)" fill="#000" stroke="#000" stroke-width="0.42"><tspan x="0" y="0" font-size="25.8">0.1</tspan></text>
<text transform="translate(1139.67,912.4) scale(0.9961,1)" fill="#000" stroke="#000" stroke-width="0.42"><tspan x="0" y="0" font-size="25.8">0.01</tspan></text>
<text transform="translate(1125.17,983.2) scale(0.9978,1)" fill="#000" stroke="#000" stroke-width="0.42"><tspan x="0" y="0" font-size="25.8">0.001</tspan></text>
<text transform="translate(1175.44,744) scale(1.0000,1)" fill="#000" stroke="#000" stroke-width="0.42"><tspan x="0" y="0" font-size="25.8">1</tspan></text>
<text transform="translate(1120.6,838.29) rotate(-90) scale(1.02,1)" fill="#000" stroke="#000" stroke-width="0.35"><tspan x="0" y="0" font-size="26.5">rate [10</tspan><tspan x="89.86" y="-11.93" font-size="16.96">-10</tspan><tspan x="114.37" y="0" font-size="26.5">]</tspan></text>
<text transform="translate(1248.12,1012.8) scale(1.0410,1)" fill="#000" stroke="#000" stroke-width="0.35"><tspan x="0" y="0" font-size="26">deletions</tspan></text>
<text transform="translate(1455.2,1012.4) scale(1.0422,1)" fill="#000" stroke="#000" stroke-width="0.35"><tspan x="0" y="0" font-size="26">insertions</tspan></text>
<text transform="translate(1654.83,1010.6) scale(1.0311,1)" fill="#000" stroke="#000" stroke-width="0.35"><tspan x="0" y="0" font-size="26">duplications</tspan></text>
<text transform="translate(1877.46,1012.4) scale(1.0084,1)" fill="#000" stroke="#000" stroke-width="0.35"><tspan x="0" y="0" font-size="26">inversions</tspan></text>
<rect x="1073.2" y="1052.9" width="20.5" height="19.7" fill="#385723" stroke="#000" stroke-width="0.8" stroke-opacity="0.22"/>
<text transform="translate(1103.78,1071.2) scale(0.9826,1)" fill="#000" stroke="#000" stroke-width="0.35"><tspan x="0" y="0" font-size="22.8">IPO323 Δchr18</tspan></text>
<rect x="1290.9" y="1052.9" width="20" height="19.7" fill="#CC3300" stroke="#000" stroke-width="0.8" stroke-opacity="0.22"/>
<text transform="translate(1321.28,1071.2) scale(0.9859,1)" fill="#000" stroke="#000" stroke-width="0.35"><tspan x="0" y="0" font-size="22.8">IPO323 Δchr18 Δ</tspan><tspan x="177.47" y="0" font-size="22.8" font-style="italic">kmt1</tspan></text>
<rect x="1579.8" y="1052.9" width="20.6" height="19.7" fill="#ED7D31" stroke="#000" stroke-width="0.8" stroke-opacity="0.22"/>
<text transform="translate(1609.97,1071.2) scale(0.9904,1)" fill="#000" stroke="#000" stroke-width="0.35"><tspan x="0" y="0" font-size="22.8">IPO323 Δchr18 Δ</tspan><tspan x="177.47" y="0" font-size="22.8" font-style="italic">kmt6</tspan></text>
<rect x="1868.8" y="1030.8" width="20.5" height="20" fill="#FFC000" stroke="#000" stroke-width="0.8" stroke-opacity="0.22"/>
<text transform="translate(1899.08,1049) scale(0.9826,1)" fill="#000" stroke="#000" stroke-width="0.35"><tspan x="0" y="0" font-size="22.8">IPO323 Δchr18</tspan></text>
<text transform="translate(1908.39,1071.7) scale(1.0380,1)" fill="#000" stroke="#000" stroke-width="0.35"><tspan x="0" y="0" font-size="21">(4w, 28°C)</tspan></text>
</svg>
</body></html>
